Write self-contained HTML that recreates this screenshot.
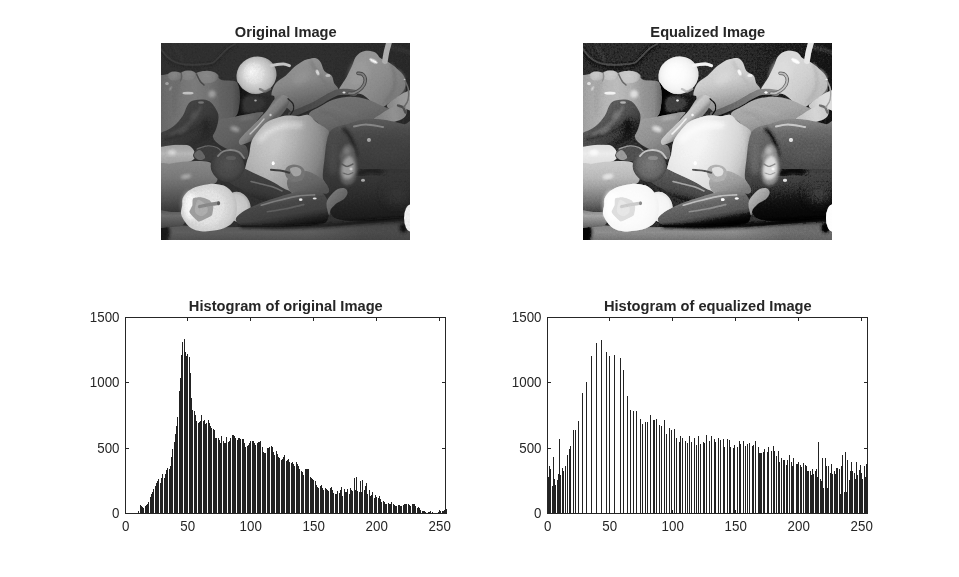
<!DOCTYPE html>
<html lang="en">
<head>
<meta charset="utf-8">
<title>Histogram Equalization</title>
<style>
html,body{margin:0;padding:0;background:#fff;}
body{width:959px;height:577px;overflow:hidden;position:relative;font-family:"Liberation Sans", Arial, Helvetica, sans-serif;}
svg{display:block;position:absolute;left:0;top:0;}
svg text{font-family:"Liberation Sans", Arial, Helvetica, sans-serif;fill:#262626;}
</style>
</head>
<body>
<svg width="959" height="577" viewBox="0 0 959 577">
<defs>
<clipPath id="imclip"><rect x="0" y="0" width="249" height="197"/></clipPath>
<filter id="eq" x="0" y="0" width="100%" height="100%" filterUnits="objectBoundingBox" color-interpolation-filters="sRGB">
<feComponentTransfer>
<feFuncR type="table" tableValues="0 0 0 0 0 0 0 0 0 0 .000 .000 .001 .002 .002 .003 .004 .005 .005 .007 .008 .010 .012 .014 .017 .019 .023 .026 .028 .032 .035 .039 .042 .046 .050 .055 .059 .064 .070 .077 .084 .092 .101 .112 .124 .139 .155 .171 .185 .200 .214 .229 .242 .252 .262 .271 .280 .288 .297 .305 .314 .323 .331 .340 .348 .356 .365 .373 .381 .389 .397 .404 .411 .418 .425 .432 .438 .445 .452 .458 .465 .472 .478 .485 .492 .499 .506 .513 .520 .527 .534 .541 .548 .555 .561 .568 .574 .580 .586 .593 .600 .606 .613 .619 .626 .632 .639 .645 .652 .658 .664 .669 .675 .681 .687 .693 .699 .705 .711 .716 .722 .727 .733 .738 .743 .748 .753 .758 .763 .768 .773 .778 .782 .787 .791 .796 .801 .805 .809 .813 .817 .821 .825 .829 .833 .837 .841 .844 .848 .851 .854 .857 .860 .862 .864 .867 .870 .872 .874 .877 .879 .881 .883 .885 .888 .890 .892 .894 .896 .898 .900 .902 .904 .906 .908 .910 .912 .914 .916 .919 .921 .923 .926 .928 .932 .934 .936 .939 .941 .944 .946 .948 .951 .953 .955 .957 .958 .960 .962 .964 .965 .967 .968 .970 .971 .972 .973 .974 .975 .976 .977 .977 .979 .979 .980 .981 .982 .982 .983 .984 .985 .985 .986 .987 .988 .989 .990 .991 .991 .992 .993 .994 .995 .995 .996 .996 .996 .997 .997 .997 .997 .997 .997 .998 .998 .998 .998 .998 .998 .998 .998 .999 .999 .999 1.000 1"/>
<feFuncG type="table" tableValues="0 0 0 0 0 0 0 0 0 0 .000 .000 .001 .002 .002 .003 .004 .005 .005 .007 .008 .010 .012 .014 .017 .019 .023 .026 .028 .032 .035 .039 .042 .046 .050 .055 .059 .064 .070 .077 .084 .092 .101 .112 .124 .139 .155 .171 .185 .200 .214 .229 .242 .252 .262 .271 .280 .288 .297 .305 .314 .323 .331 .340 .348 .356 .365 .373 .381 .389 .397 .404 .411 .418 .425 .432 .438 .445 .452 .458 .465 .472 .478 .485 .492 .499 .506 .513 .520 .527 .534 .541 .548 .555 .561 .568 .574 .580 .586 .593 .600 .606 .613 .619 .626 .632 .639 .645 .652 .658 .664 .669 .675 .681 .687 .693 .699 .705 .711 .716 .722 .727 .733 .738 .743 .748 .753 .758 .763 .768 .773 .778 .782 .787 .791 .796 .801 .805 .809 .813 .817 .821 .825 .829 .833 .837 .841 .844 .848 .851 .854 .857 .860 .862 .864 .867 .870 .872 .874 .877 .879 .881 .883 .885 .888 .890 .892 .894 .896 .898 .900 .902 .904 .906 .908 .910 .912 .914 .916 .919 .921 .923 .926 .928 .932 .934 .936 .939 .941 .944 .946 .948 .951 .953 .955 .957 .958 .960 .962 .964 .965 .967 .968 .970 .971 .972 .973 .974 .975 .976 .977 .977 .979 .979 .980 .981 .982 .982 .983 .984 .985 .985 .986 .987 .988 .989 .990 .991 .991 .992 .993 .994 .995 .995 .996 .996 .996 .997 .997 .997 .997 .997 .997 .998 .998 .998 .998 .998 .998 .998 .998 .999 .999 .999 1.000 1"/>
<feFuncB type="table" tableValues="0 0 0 0 0 0 0 0 0 0 .000 .000 .001 .002 .002 .003 .004 .005 .005 .007 .008 .010 .012 .014 .017 .019 .023 .026 .028 .032 .035 .039 .042 .046 .050 .055 .059 .064 .070 .077 .084 .092 .101 .112 .124 .139 .155 .171 .185 .200 .214 .229 .242 .252 .262 .271 .280 .288 .297 .305 .314 .323 .331 .340 .348 .356 .365 .373 .381 .389 .397 .404 .411 .418 .425 .432 .438 .445 .452 .458 .465 .472 .478 .485 .492 .499 .506 .513 .520 .527 .534 .541 .548 .555 .561 .568 .574 .580 .586 .593 .600 .606 .613 .619 .626 .632 .639 .645 .652 .658 .664 .669 .675 .681 .687 .693 .699 .705 .711 .716 .722 .727 .733 .738 .743 .748 .753 .758 .763 .768 .773 .778 .782 .787 .791 .796 .801 .805 .809 .813 .817 .821 .825 .829 .833 .837 .841 .844 .848 .851 .854 .857 .860 .862 .864 .867 .870 .872 .874 .877 .879 .881 .883 .885 .888 .890 .892 .894 .896 .898 .900 .902 .904 .906 .908 .910 .912 .914 .916 .919 .921 .923 .926 .928 .932 .934 .936 .939 .941 .944 .946 .948 .951 .953 .955 .957 .958 .960 .962 .964 .965 .967 .968 .970 .971 .972 .973 .974 .975 .976 .977 .977 .979 .979 .980 .981 .982 .982 .983 .984 .985 .985 .986 .987 .988 .989 .990 .991 .991 .992 .993 .994 .995 .995 .996 .996 .996 .997 .997 .997 .997 .997 .997 .998 .998 .998 .998 .998 .998 .998 .998 .999 .999 .999 1.000 1"/>
</feComponentTransfer>
</filter>
<filter id="pb1" x="-30%" y="-30%" width="160%" height="160%"><feGaussianBlur stdDeviation="0.7"/></filter>
<filter id="pb2" x="-30%" y="-30%" width="160%" height="160%"><feGaussianBlur stdDeviation="1.4"/></filter>
<filter id="pb3" x="-30%" y="-30%" width="160%" height="160%"><feGaussianBlur stdDeviation="2.5"/></filter>
<filter id="pb5" x="-30%" y="-30%" width="160%" height="160%"><feGaussianBlur stdDeviation="5"/></filter>
<filter id="pball" x="0" y="0" width="100%" height="100%" filterUnits="objectBoundingBox" color-interpolation-filters="sRGB"><feGaussianBlur in="SourceGraphic" stdDeviation="0.75" result="bl"/><feTurbulence type="fractalNoise" baseFrequency="0.55" numOctaves="2" seed="7" result="nz"/><feColorMatrix in="nz" type="matrix" values="0.6 0.4 0 0 0  0.6 0.4 0 0 0  0.6 0.4 0 0 0  0 0 0 0 1" result="ng"/><feComposite in="bl" in2="ng" operator="arithmetic" k1="0" k2="1" k3="0.06" k4="-0.03"/><feComponentTransfer><feFuncR type="table" tableValues="0.02 0.021 0.022 0.024 0.025 0.027 0.029 0.031 0.033 0.035 0.037 0.039 0.041 0.043 0.045 0.048 0.05 0.053 0.056 0.059 0.062 0.066 0.07 0.074 0.079 0.083 0.087 0.092 0.096 0.1 0.104 0.108 0.112 0.116 0.119 0.123 0.127 0.131 0.135 0.139 0.144 0.149 0.154 0.159 0.164 0.17 0.175 0.181 0.186 0.191 0.196 0.2 0.204 0.208 0.211 0.215 0.218 0.222 0.225 0.229 0.233 0.236 0.24 0.244 0.248 0.253 0.257 0.261 0.265 0.269 0.273 0.278 0.282 0.286 0.29 0.294 0.299 0.303 0.306 0.31 0.314 0.317 0.32 0.324 0.327 0.33 0.334 0.337 0.34 0.343 0.347 0.35 0.353 0.357 0.36 0.363 0.367 0.37 0.373 0.377 0.38 0.384 0.387 0.391 0.394 0.398 0.402 0.406 0.41 0.414 0.418 0.422 0.426 0.43 0.434 0.438 0.442 0.446 0.45 0.454 0.457 0.461 0.464 0.467 0.471 0.474 0.478 0.481 0.485 0.488 0.492 0.495 0.499 0.503 0.506 0.51 0.514 0.518 0.521 0.525 0.529 0.532 0.536 0.54 0.543 0.547 0.55 0.554 0.558 0.561 0.565 0.568 0.572 0.575 0.578 0.582 0.585 0.588 0.591 0.594 0.597 0.601 0.604 0.607 0.61 0.613 0.617 0.62 0.623 0.626 0.629 0.631 0.634 0.637 0.64 0.643 0.646 0.649 0.653 0.656 0.659 0.662 0.666 0.669 0.673 0.677 0.681 0.685 0.689 0.693 0.697 0.702 0.706 0.71 0.715 0.719 0.723 0.728 0.732 0.736 0.741 0.745 0.749 0.753 0.757 0.761 0.765 0.769 0.773 0.776 0.78 0.784 0.787 0.791 0.794 0.798 0.801 0.805 0.809 0.813 0.817 0.822 0.827 0.832 0.838 0.844 0.851 0.858 0.865 0.872 0.88 0.887 0.894 0.9 0.907 0.914 0.922 0.929 0.937 0.944 0.952 0.959 0.965 0.971 0.976 0.979 0.981 0.984 0.986 0.988 0.99 0.992 0.994 0.995 0.997 0.998"/><feFuncG type="table" tableValues="0.02 0.021 0.022 0.024 0.025 0.027 0.029 0.031 0.033 0.035 0.037 0.039 0.041 0.043 0.045 0.048 0.05 0.053 0.056 0.059 0.062 0.066 0.07 0.074 0.079 0.083 0.087 0.092 0.096 0.1 0.104 0.108 0.112 0.116 0.119 0.123 0.127 0.131 0.135 0.139 0.144 0.149 0.154 0.159 0.164 0.17 0.175 0.181 0.186 0.191 0.196 0.2 0.204 0.208 0.211 0.215 0.218 0.222 0.225 0.229 0.233 0.236 0.24 0.244 0.248 0.253 0.257 0.261 0.265 0.269 0.273 0.278 0.282 0.286 0.29 0.294 0.299 0.303 0.306 0.31 0.314 0.317 0.32 0.324 0.327 0.33 0.334 0.337 0.34 0.343 0.347 0.35 0.353 0.357 0.36 0.363 0.367 0.37 0.373 0.377 0.38 0.384 0.387 0.391 0.394 0.398 0.402 0.406 0.41 0.414 0.418 0.422 0.426 0.43 0.434 0.438 0.442 0.446 0.45 0.454 0.457 0.461 0.464 0.467 0.471 0.474 0.478 0.481 0.485 0.488 0.492 0.495 0.499 0.503 0.506 0.51 0.514 0.518 0.521 0.525 0.529 0.532 0.536 0.54 0.543 0.547 0.55 0.554 0.558 0.561 0.565 0.568 0.572 0.575 0.578 0.582 0.585 0.588 0.591 0.594 0.597 0.601 0.604 0.607 0.61 0.613 0.617 0.62 0.623 0.626 0.629 0.631 0.634 0.637 0.64 0.643 0.646 0.649 0.653 0.656 0.659 0.662 0.666 0.669 0.673 0.677 0.681 0.685 0.689 0.693 0.697 0.702 0.706 0.71 0.715 0.719 0.723 0.728 0.732 0.736 0.741 0.745 0.749 0.753 0.757 0.761 0.765 0.769 0.773 0.776 0.78 0.784 0.787 0.791 0.794 0.798 0.801 0.805 0.809 0.813 0.817 0.822 0.827 0.832 0.838 0.844 0.851 0.858 0.865 0.872 0.88 0.887 0.894 0.9 0.907 0.914 0.922 0.929 0.937 0.944 0.952 0.959 0.965 0.971 0.976 0.979 0.981 0.984 0.986 0.988 0.99 0.992 0.994 0.995 0.997 0.998"/><feFuncB type="table" tableValues="0.02 0.021 0.022 0.024 0.025 0.027 0.029 0.031 0.033 0.035 0.037 0.039 0.041 0.043 0.045 0.048 0.05 0.053 0.056 0.059 0.062 0.066 0.07 0.074 0.079 0.083 0.087 0.092 0.096 0.1 0.104 0.108 0.112 0.116 0.119 0.123 0.127 0.131 0.135 0.139 0.144 0.149 0.154 0.159 0.164 0.17 0.175 0.181 0.186 0.191 0.196 0.2 0.204 0.208 0.211 0.215 0.218 0.222 0.225 0.229 0.233 0.236 0.24 0.244 0.248 0.253 0.257 0.261 0.265 0.269 0.273 0.278 0.282 0.286 0.29 0.294 0.299 0.303 0.306 0.31 0.314 0.317 0.32 0.324 0.327 0.33 0.334 0.337 0.34 0.343 0.347 0.35 0.353 0.357 0.36 0.363 0.367 0.37 0.373 0.377 0.38 0.384 0.387 0.391 0.394 0.398 0.402 0.406 0.41 0.414 0.418 0.422 0.426 0.43 0.434 0.438 0.442 0.446 0.45 0.454 0.457 0.461 0.464 0.467 0.471 0.474 0.478 0.481 0.485 0.488 0.492 0.495 0.499 0.503 0.506 0.51 0.514 0.518 0.521 0.525 0.529 0.532 0.536 0.54 0.543 0.547 0.55 0.554 0.558 0.561 0.565 0.568 0.572 0.575 0.578 0.582 0.585 0.588 0.591 0.594 0.597 0.601 0.604 0.607 0.61 0.613 0.617 0.62 0.623 0.626 0.629 0.631 0.634 0.637 0.64 0.643 0.646 0.649 0.653 0.656 0.659 0.662 0.666 0.669 0.673 0.677 0.681 0.685 0.689 0.693 0.697 0.702 0.706 0.71 0.715 0.719 0.723 0.728 0.732 0.736 0.741 0.745 0.749 0.753 0.757 0.761 0.765 0.769 0.773 0.776 0.78 0.784 0.787 0.791 0.794 0.798 0.801 0.805 0.809 0.813 0.817 0.822 0.827 0.832 0.838 0.844 0.851 0.858 0.865 0.872 0.88 0.887 0.894 0.9 0.907 0.914 0.922 0.929 0.937 0.944 0.952 0.959 0.965 0.971 0.976 0.979 0.981 0.984 0.986 0.988 0.99 0.992 0.994 0.995 0.997 0.998"/></feComponentTransfer></filter>
<linearGradient id="pg1" gradientUnits="userSpaceOnUse" x1="0.0" y1="0.0" x2="249.0" y2="0.0"><stop offset="0" stop-color="#303030"/><stop offset="0.6" stop-color="#303030"/><stop offset="0.85" stop-color="#2d2d2d"/><stop offset="1" stop-color="#2b2b2b"/></linearGradient>
<linearGradient id="pg2" gradientUnits="userSpaceOnUse" x1="0.0" y1="178.0" x2="0.0" y2="197.0"><stop offset="0" stop-color="#282828"/><stop offset="0.3" stop-color="#5c5c5c"/><stop offset="0.6" stop-color="#606060"/><stop offset="1" stop-color="#505050"/></linearGradient>
<linearGradient id="pg3" gradientUnits="userSpaceOnUse" x1="150.0" y1="0.0" x2="250.0" y2="0.0"><stop offset="0" stop-color="#3c3c3c" stop-opacity="0"/><stop offset="0.5" stop-color="#3c3c3c" stop-opacity="0.55"/><stop offset="1" stop-color="#424242" stop-opacity="0.7"/></linearGradient>
<linearGradient id="pg4" gradientUnits="userSpaceOnUse" x1="185.0" y1="12.0" x2="240.0" y2="62.0"><stop offset="0" stop-color="#9a9a9a"/><stop offset="0.3" stop-color="#9c9c9c"/><stop offset="0.6" stop-color="#909090"/><stop offset="1" stop-color="#767676"/></linearGradient>
<linearGradient id="pg5" gradientUnits="userSpaceOnUse" x1="142.0" y1="18.0" x2="152.0" y2="66.0"><stop offset="0" stop-color="#989898"/><stop offset="0.4" stop-color="#8e8e8e"/><stop offset="0.75" stop-color="#707070"/><stop offset="1" stop-color="#5c5c5c"/></linearGradient>
<radialGradient id="pg6" gradientUnits="userSpaceOnUse" cx="95.5" cy="32.3" r="22.0" fx="92.0" fy="27.0"><stop offset="0" stop-color="#f2f2f2"/><stop offset="0.45" stop-color="#e4e4e4"/><stop offset="0.8" stop-color="#c4c4c4"/><stop offset="1" stop-color="#969696"/></radialGradient>
<linearGradient id="pg7" gradientUnits="userSpaceOnUse" x1="76.0" y1="0.0" x2="100.0" y2="0.0"><stop offset="0" stop-color="#161616"/><stop offset="0.35" stop-color="#1c1c1c"/><stop offset="1" stop-color="#2c2c2c"/></linearGradient>
<linearGradient id="pg8" gradientUnits="userSpaceOnUse" x1="0.0" y1="50.0" x2="79.0" y2="50.0"><stop offset="0" stop-color="#6c6c6c"/><stop offset="0.2" stop-color="#767676"/><stop offset="0.42" stop-color="#808080"/><stop offset="0.6" stop-color="#767676"/><stop offset="0.75" stop-color="#676767"/><stop offset="0.9" stop-color="#5e5e5e"/><stop offset="1" stop-color="#464646"/></linearGradient>
<radialGradient id="pg9" gradientUnits="userSpaceOnUse" cx="13.5" cy="32.0" r="8.0"><stop offset="0" stop-color="#8c8c8c"/><stop offset="0.7" stop-color="#828282"/><stop offset="1" stop-color="#6e6e6e"/></radialGradient>
<radialGradient id="pg10" gradientUnits="userSpaceOnUse" cx="27.3" cy="31.5" r="9.0"><stop offset="0" stop-color="#8e8e8e"/><stop offset="0.7" stop-color="#848484"/><stop offset="1" stop-color="#6e6e6e"/></radialGradient>
<radialGradient id="pg11" gradientUnits="userSpaceOnUse" cx="45.0" cy="33.0" r="12.5"><stop offset="0" stop-color="#8e8e8e"/><stop offset="0.7" stop-color="#848484"/><stop offset="1" stop-color="#6e6e6e"/></radialGradient>
<linearGradient id="pg12" gradientUnits="userSpaceOnUse" x1="60.0" y1="72.0" x2="85.0" y2="112.0"><stop offset="0" stop-color="#6c6c6c"/><stop offset="0.5" stop-color="#646464"/><stop offset="1" stop-color="#4c4c4c"/></linearGradient>
<linearGradient id="pg13" gradientUnits="userSpaceOnUse" x1="180.0" y1="55.0" x2="188.0" y2="86.0"><stop offset="0" stop-color="#767676"/><stop offset="0.5" stop-color="#707070"/><stop offset="1" stop-color="#626262"/></linearGradient>
<linearGradient id="pg14" gradientUnits="userSpaceOnUse" x1="228.0" y1="60.0" x2="250.0" y2="56.0"><stop offset="0" stop-color="#8c8c8c"/><stop offset="0.5" stop-color="#a0a0a0"/><stop offset="1" stop-color="#a8a8a8"/></linearGradient>
<linearGradient id="pg15" gradientUnits="userSpaceOnUse" x1="216.0" y1="74.0" x2="244.0" y2="68.0"><stop offset="0" stop-color="#878787"/><stop offset="0.6" stop-color="#989898"/><stop offset="1" stop-color="#8c8c8c"/></linearGradient>
<linearGradient id="pg16" gradientUnits="userSpaceOnUse" x1="130.0" y1="72.0" x2="193.0" y2="50.0"><stop offset="0" stop-color="#444444"/><stop offset="0.5" stop-color="#4e4e4e"/><stop offset="1" stop-color="#626262"/></linearGradient>
<linearGradient id="pg17" gradientUnits="userSpaceOnUse" x1="98.0" y1="70.0" x2="108.0" y2="80.0"><stop offset="0" stop-color="#696969"/><stop offset="0.35" stop-color="#8c8c8c"/><stop offset="0.7" stop-color="#808080"/><stop offset="1" stop-color="#5f5f5f"/></linearGradient>
<radialGradient id="pg18" gradientUnits="userSpaceOnUse" cx="122.0" cy="106.0" r="50.0" fx="114.0" fy="96.0"><stop offset="0" stop-color="#d4d4d4"/><stop offset="0.45" stop-color="#c8c8c8"/><stop offset="0.8" stop-color="#bababa"/><stop offset="1" stop-color="#a2a2a2"/></radialGradient>
<linearGradient id="pg19" gradientUnits="userSpaceOnUse" x1="118.0" y1="100.0" x2="168.0" y2="118.0"><stop offset="0" stop-color="#3c3c3c" stop-opacity="0"/><stop offset="0.3" stop-color="#3c3c3c" stop-opacity="0.1"/><stop offset="0.8" stop-color="#3c3c3c" stop-opacity="0.38"/><stop offset="1" stop-color="#3c3c3c" stop-opacity="0.55"/></linearGradient>
<linearGradient id="pg20" gradientUnits="userSpaceOnUse" x1="200.0" y1="78.0" x2="205.0" y2="178.0"><stop offset="0" stop-color="#5c5c5c"/><stop offset="0.1" stop-color="#4c4c4c"/><stop offset="0.3" stop-color="#404040"/><stop offset="0.55" stop-color="#383838"/><stop offset="0.8" stop-color="#2a2a2a"/><stop offset="0.95" stop-color="#202020"/><stop offset="1" stop-color="#181818"/></linearGradient>
<linearGradient id="pg21" gradientUnits="userSpaceOnUse" x1="0.0" y1="102.0" x2="0.0" y2="124.0"><stop offset="0" stop-color="#acacac"/><stop offset="0.4" stop-color="#c2c2c2"/><stop offset="1" stop-color="#a0a0a0"/></linearGradient>
<linearGradient id="pg22" gradientUnits="userSpaceOnUse" x1="0.0" y1="118.0" x2="0.0" y2="170.0"><stop offset="0" stop-color="#8e8e8e"/><stop offset="0.3" stop-color="#7e7e7e"/><stop offset="0.5" stop-color="#6c6c6c"/><stop offset="0.75" stop-color="#505050"/><stop offset="1" stop-color="#343434"/></linearGradient>
<linearGradient id="pg23" gradientUnits="userSpaceOnUse" x1="0.0" y1="168.0" x2="0.0" y2="184.0"><stop offset="0" stop-color="#5f5f5f"/><stop offset="0.3" stop-color="#707070"/><stop offset="1" stop-color="#464646"/></linearGradient>
<linearGradient id="pg24" gradientUnits="userSpaceOnUse" x1="20.0" y1="70.0" x2="40.0" y2="95.0"><stop offset="0" stop-color="#424242"/><stop offset="0.5" stop-color="#3c3c3c"/><stop offset="1" stop-color="#2e2e2e"/></linearGradient>
<linearGradient id="pg25" gradientUnits="userSpaceOnUse" x1="95.0" y1="132.0" x2="90.0" y2="156.0"><stop offset="0" stop-color="#424242"/><stop offset="0.6" stop-color="#3a3a3a"/><stop offset="1" stop-color="#282828"/></linearGradient>
<radialGradient id="pg26" gradientUnits="userSpaceOnUse" cx="66.5" cy="121.0" r="18.0"><stop offset="0" stop-color="#525252"/><stop offset="0.7" stop-color="#484848"/><stop offset="1" stop-color="#383838"/></radialGradient>
<linearGradient id="pg27" gradientUnits="userSpaceOnUse" x1="140.0" y1="128.0" x2="150.0" y2="152.0"><stop offset="0" stop-color="#767676"/><stop offset="0.6" stop-color="#686868"/><stop offset="1" stop-color="#545454"/></linearGradient>
<radialGradient id="pg28" gradientUnits="userSpaceOnUse" cx="74.0" cy="163.0" r="17.0"><stop offset="0" stop-color="#dedede"/><stop offset="0.7" stop-color="#d0d0d0"/><stop offset="1" stop-color="#aaaaaa"/></radialGradient>
<linearGradient id="pg29" gradientUnits="userSpaceOnUse" x1="120.0" y1="150.0" x2="126.0" y2="184.0"><stop offset="0" stop-color="#646464"/><stop offset="0.3" stop-color="#484848"/><stop offset="0.65" stop-color="#404040"/><stop offset="0.88" stop-color="#242424"/><stop offset="1" stop-color="#181818"/></linearGradient>
<linearGradient id="pg30" gradientUnits="userSpaceOnUse" x1="168.0" y1="148.0" x2="182.0" y2="162.0"><stop offset="0" stop-color="#828282"/><stop offset="1" stop-color="#5f5f5f"/></linearGradient>
<radialGradient id="pg31" gradientUnits="userSpaceOnUse" cx="46.0" cy="164.0" r="32.0"><stop offset="0" stop-color="#eaeaea"/><stop offset="0.5" stop-color="#e6e6e6"/><stop offset="0.8" stop-color="#dadada"/><stop offset="1" stop-color="#c0c0c0"/></radialGradient>
<g id="hbars1"><g fill="#232323" shape-rendering="crispEdges"><rect x="137" y="512.5" width="1" height="1"/><rect x="138" y="511" width="1" height="2.5"/><rect x="140" y="505" width="1" height="8.5"/><rect x="141" y="505.5" width="1" height="8"/><rect x="142" y="507" width="1" height="6.5"/><rect x="143" y="507.5" width="1" height="6"/><rect x="145" y="506" width="1" height="7.5"/><rect x="146" y="504.5" width="1" height="9"/><rect x="147" y="503.5" width="1" height="10"/><rect x="148" y="501.5" width="1" height="12"/><rect x="150" y="496.5" width="1" height="17"/><rect x="151" y="494" width="1" height="19.5"/><rect x="152" y="491.5" width="1" height="22"/><rect x="153" y="489" width="1" height="24.5"/><rect x="155" y="485.5" width="1" height="28"/><rect x="156" y="483" width="1" height="30.5"/><rect x="157" y="480.5" width="1" height="33"/><rect x="158" y="478.5" width="1" height="35"/><rect x="160" y="483" width="1" height="30.5"/><rect x="161" y="477.5" width="1" height="36"/><rect x="162" y="474" width="1" height="39.5"/><rect x="164" y="477.5" width="1" height="36"/><rect x="165" y="473.5" width="1" height="40"/><rect x="166" y="469.5" width="1" height="44"/><rect x="167" y="468" width="1" height="45.5"/><rect x="169" y="469" width="1" height="44.5"/><rect x="170" y="466" width="1" height="47.5"/><rect x="171" y="457" width="1" height="56.5"/><rect x="172" y="448.5" width="1" height="65"/><rect x="174" y="441.5" width="1" height="72"/><rect x="175" y="433.5" width="1" height="80"/><rect x="176" y="426" width="1" height="87.5"/><rect x="177" y="417" width="1" height="96.5"/><rect x="179" y="390.5" width="1" height="123"/><rect x="180" y="377.5" width="1" height="136"/><rect x="181" y="354.5" width="1" height="159"/><rect x="182" y="341.5" width="1" height="172"/><rect x="184" y="339" width="1" height="174.5"/><rect x="185" y="351.5" width="1" height="162"/><rect x="186" y="355.5" width="1" height="158"/><rect x="187" y="354" width="1" height="159.5"/><rect x="189" y="357" width="1" height="156.5"/><rect x="190" y="372.5" width="1" height="141"/><rect x="191" y="397.5" width="1" height="116"/><rect x="192" y="410" width="1" height="103.5"/><rect x="194" y="411" width="1" height="102.5"/><rect x="195" y="415" width="1" height="98.5"/><rect x="196" y="421" width="1" height="92.5"/><rect x="198" y="423" width="1" height="90.5"/><rect x="199" y="422" width="1" height="91.5"/><rect x="200" y="421" width="1" height="92.5"/><rect x="201" y="414.5" width="1" height="99"/><rect x="203" y="420.5" width="1" height="93"/><rect x="204" y="420" width="1" height="93.5"/><rect x="205" y="424" width="1" height="89.5"/><rect x="206" y="423" width="1" height="90.5"/><rect x="208" y="419.5" width="1" height="94"/><rect x="209" y="423" width="1" height="90.5"/><rect x="210" y="426" width="1" height="87.5"/><rect x="211" y="427.5" width="1" height="86"/><rect x="213" y="428.5" width="1" height="85"/><rect x="214" y="430" width="1" height="83.5"/><rect x="215" y="437.5" width="1" height="76"/><rect x="216" y="438" width="1" height="75.5"/><rect x="218" y="437.5" width="1" height="76"/><rect x="219" y="440" width="1" height="73.5"/><rect x="220" y="442.5" width="1" height="71"/><rect x="221" y="436" width="1" height="77.5"/><rect x="223" y="441" width="1" height="72.5"/><rect x="224" y="443" width="1" height="70.5"/><rect x="225" y="443" width="1" height="70.5"/><rect x="226" y="436.5" width="1" height="77"/><rect x="228" y="441.5" width="1" height="72"/><rect x="229" y="441" width="1" height="72.5"/><rect x="230" y="438" width="1" height="75.5"/><rect x="232" y="434.5" width="1" height="79"/><rect x="233" y="435" width="1" height="78.5"/><rect x="234" y="436" width="1" height="77.5"/><rect x="235" y="438" width="1" height="75.5"/><rect x="237" y="439.5" width="1" height="74"/><rect x="238" y="437.5" width="1" height="76"/><rect x="239" y="438" width="1" height="75.5"/><rect x="240" y="438.5" width="1" height="75"/><rect x="242" y="439" width="1" height="74.5"/><rect x="243" y="439" width="1" height="74.5"/><rect x="244" y="442.5" width="1" height="71"/><rect x="245" y="446.5" width="1" height="67"/><rect x="247" y="445.5" width="1" height="68"/><rect x="248" y="445" width="1" height="68.5"/><rect x="249" y="443" width="1" height="70.5"/><rect x="250" y="441" width="1" height="72.5"/><rect x="252" y="440.5" width="1" height="73"/><rect x="253" y="440.5" width="1" height="73"/><rect x="254" y="443" width="1" height="70.5"/><rect x="255" y="445" width="1" height="68.5"/><rect x="257" y="443" width="1" height="70.5"/><rect x="258" y="442" width="1" height="71.5"/><rect x="259" y="441.5" width="1" height="72"/><rect x="260" y="440.5" width="1" height="73"/><rect x="262" y="446.5" width="1" height="67"/><rect x="263" y="451.5" width="1" height="62"/><rect x="264" y="453" width="1" height="60.5"/><rect x="265" y="452.5" width="1" height="61"/><rect x="267" y="448" width="1" height="65.5"/><rect x="268" y="447.5" width="1" height="66"/><rect x="269" y="447" width="1" height="66.5"/><rect x="271" y="446" width="1" height="67.5"/><rect x="272" y="447" width="1" height="66.5"/><rect x="273" y="451.5" width="1" height="62"/><rect x="274" y="454.5" width="1" height="59"/><rect x="276" y="450.5" width="1" height="63"/><rect x="277" y="453.5" width="1" height="60"/><rect x="278" y="456.5" width="1" height="57"/><rect x="279" y="458" width="1" height="55.5"/><rect x="281" y="459.5" width="1" height="54"/><rect x="282" y="459" width="1" height="54.5"/><rect x="283" y="456.5" width="1" height="57"/><rect x="284" y="455" width="1" height="58.5"/><rect x="286" y="461" width="1" height="52.5"/><rect x="287" y="459.5" width="1" height="54"/><rect x="288" y="458.5" width="1" height="55"/><rect x="289" y="461.5" width="1" height="52"/><rect x="291" y="463" width="1" height="50.5"/><rect x="292" y="461.5" width="1" height="52"/><rect x="293" y="464" width="1" height="49.5"/><rect x="294" y="466" width="1" height="47.5"/><rect x="296" y="462" width="1" height="51.5"/><rect x="297" y="464" width="1" height="49.5"/><rect x="298" y="466" width="1" height="47.5"/><rect x="299" y="469" width="1" height="44.5"/><rect x="301" y="471" width="1" height="42.5"/><rect x="302" y="471.5" width="1" height="42"/><rect x="303" y="474.5" width="1" height="39"/><rect x="305" y="469" width="1" height="44.5"/><rect x="306" y="468.5" width="1" height="45"/><rect x="307" y="468.5" width="1" height="45"/><rect x="308" y="468.5" width="1" height="45"/><rect x="310" y="477" width="1" height="36.5"/><rect x="311" y="478" width="1" height="35.5"/><rect x="312" y="479" width="1" height="34.5"/><rect x="313" y="479.5" width="1" height="34"/><rect x="315" y="481" width="1" height="32.5"/><rect x="316" y="484.5" width="1" height="29"/><rect x="317" y="486.5" width="1" height="27"/><rect x="318" y="487.5" width="1" height="26"/><rect x="320" y="485.5" width="1" height="28"/><rect x="321" y="484.5" width="1" height="29"/><rect x="322" y="487.5" width="1" height="26"/><rect x="323" y="489.5" width="1" height="24"/><rect x="325" y="487.5" width="1" height="26"/><rect x="326" y="488.5" width="1" height="25"/><rect x="327" y="490" width="1" height="23.5"/><rect x="328" y="490.5" width="1" height="23"/><rect x="330" y="488" width="1" height="25.5"/><rect x="331" y="486.5" width="1" height="27"/><rect x="332" y="489.5" width="1" height="24"/><rect x="333" y="492.5" width="1" height="21"/><rect x="335" y="494" width="1" height="19.5"/><rect x="336" y="494" width="1" height="19.5"/><rect x="337" y="490.5" width="1" height="23"/><rect x="339" y="492.5" width="1" height="21"/><rect x="340" y="489.5" width="1" height="24"/><rect x="341" y="486.5" width="1" height="27"/><rect x="342" y="496" width="1" height="17.5"/><rect x="344" y="488.5" width="1" height="25"/><rect x="345" y="492" width="1" height="21.5"/><rect x="346" y="492" width="1" height="21.5"/><rect x="347" y="488.5" width="1" height="25"/><rect x="349" y="493.5" width="1" height="20"/><rect x="350" y="488" width="1" height="25.5"/><rect x="351" y="490" width="1" height="23.5"/><rect x="352" y="490.5" width="1" height="23"/><rect x="354" y="478" width="1" height="35.5"/><rect x="355" y="490" width="1" height="23.5"/><rect x="356" y="476.5" width="1" height="37"/><rect x="357" y="490.5" width="1" height="23"/><rect x="359" y="491.5" width="1" height="22"/><rect x="360" y="481" width="1" height="32.5"/><rect x="361" y="491.5" width="1" height="22"/><rect x="362" y="479.5" width="1" height="34"/><rect x="364" y="490" width="1" height="23.5"/><rect x="365" y="486" width="1" height="27.5"/><rect x="366" y="482.5" width="1" height="31"/><rect x="367" y="494" width="1" height="19.5"/><rect x="369" y="490" width="1" height="23.5"/><rect x="370" y="495.5" width="1" height="18"/><rect x="371" y="494.5" width="1" height="19"/><rect x="372" y="491.5" width="1" height="22"/><rect x="374" y="497.5" width="1" height="16"/><rect x="375" y="495" width="1" height="18.5"/><rect x="376" y="496.5" width="1" height="17"/><rect x="378" y="498" width="1" height="15.5"/><rect x="379" y="495.5" width="1" height="18"/><rect x="380" y="499" width="1" height="14.5"/><rect x="381" y="501.5" width="1" height="12"/><rect x="383" y="500.5" width="1" height="13"/><rect x="384" y="502" width="1" height="11.5"/><rect x="385" y="503.5" width="1" height="10"/><rect x="386" y="503.5" width="1" height="10"/><rect x="388" y="502.5" width="1" height="11"/><rect x="389" y="504" width="1" height="9.5"/><rect x="390" y="504" width="1" height="9.5"/><rect x="391" y="502" width="1" height="11.5"/><rect x="393" y="504" width="1" height="9.5"/><rect x="394" y="505" width="1" height="8.5"/><rect x="395" y="506" width="1" height="7.5"/><rect x="396" y="505.5" width="1" height="8"/><rect x="398" y="505" width="1" height="8.5"/><rect x="399" y="505" width="1" height="8.5"/><rect x="400" y="505.5" width="1" height="8"/><rect x="401" y="506" width="1" height="7.5"/><rect x="403" y="504.5" width="1" height="9"/><rect x="404" y="504" width="1" height="9.5"/><rect x="405" y="503.5" width="1" height="10"/><rect x="406" y="503.5" width="1" height="10"/><rect x="408" y="503.5" width="1" height="10"/><rect x="409" y="505" width="1" height="8.5"/><rect x="410" y="505.5" width="1" height="8"/><rect x="412" y="503.5" width="1" height="10"/><rect x="413" y="503.5" width="1" height="10"/><rect x="414" y="503.5" width="1" height="10"/><rect x="415" y="505.5" width="1" height="8"/><rect x="417" y="508" width="1" height="5.5"/><rect x="418" y="506.5" width="1" height="7"/><rect x="419" y="508" width="1" height="5.5"/><rect x="420" y="509.5" width="1" height="4"/><rect x="422" y="511" width="1" height="2.5"/><rect x="423" y="511" width="1" height="2.5"/><rect x="424" y="511" width="1" height="2.5"/><rect x="425" y="511.5" width="1" height="2"/><rect x="427" y="512.5" width="1" height="1"/><rect x="428" y="512" width="1" height="1.5"/><rect x="429" y="511.5" width="1" height="2"/><rect x="430" y="511" width="1" height="2.5"/><rect x="432" y="512" width="1" height="1.5"/><rect x="433" y="512.5" width="1" height="1"/><rect x="434" y="512.5" width="1" height="1"/><rect x="435" y="512.5" width="1" height="1"/><rect x="437" y="513" width="1" height="0.5"/><rect x="438" y="512" width="1" height="1.5"/><rect x="439" y="510.5" width="1" height="3"/><rect x="440" y="511" width="1" height="2.5"/><rect x="442" y="511" width="1" height="2.5"/><rect x="443" y="510.5" width="1" height="3"/><rect x="444" y="509.5" width="1" height="4"/><rect x="446" y="509" width="1" height="4.5"/></g></g>
</defs>
<rect width="959" height="577" fill="#fff"/>
<!-- top row: images -->
<text transform="translate(285.8,36.5) scale(1,1.06)" text-anchor="middle" font-size="14.67" font-weight="bold">Original Image</text>
<text transform="translate(707.8,36.5) scale(1,1.06)" text-anchor="middle" font-size="14.67" font-weight="bold">Equalized Image</text>
<g transform="translate(161,43)" clip-path="url(#imclip)"><g id="pep"><g filter="url(#pball)"><rect x="-12" y="-12" width="273" height="221" fill="url(#pg1)"/>
<path d="M0.0 8.0C1.0 9.2 3.7 12.9 6.0 15.0C8.3 17.1 11.0 19.2 14.0 20.5C17.0 21.8 19.7 22.6 24.0 23.0C28.3 23.4 35.3 23.3 40.0 23.0C44.7 22.7 48.7 22.7 52.0 21.0C55.3 19.3 57.7 15.3 60.0 13.0C62.3 10.7 63.7 8.8 66.0 7.0C68.3 5.2 72.7 2.8 74.0 2.0" fill="none" stroke="#262626" stroke-width="2.4" stroke-linecap="round" stroke-linejoin="round" filter="url(#pb2)" opacity="0.8"/>
<path d="M0.0 6.0C1.0 7.2 3.7 11.3 6.0 13.5C8.3 15.7 11.0 17.7 14.0 19.0C17.0 20.3 19.7 21.1 24.0 21.5C28.3 21.9 35.3 21.8 40.0 21.5C44.7 21.2 48.7 21.1 52.0 19.5C55.3 17.9 57.7 14.2 60.0 12.0C62.3 9.8 63.7 7.8 66.0 6.0C68.3 4.2 72.7 1.8 74.0 1.0" fill="none" stroke="#3c3c3c" stroke-width="1.8" stroke-linecap="round" stroke-linejoin="round" filter="url(#pb1)" opacity="0.9"/>
<path d="M12.0 2.0C13.0 3.3 16.3 7.0 18.0 10.0C19.7 13.0 21.3 18.3 22.0 20.0" fill="none" stroke="#393939" stroke-width="1.5" stroke-linecap="round" stroke-linejoin="round" filter="url(#pb2)" opacity="0.8"/>
<path d="M225.0 2.0 L250.0 10.0" fill="none" stroke="#363636" stroke-width="3" stroke-linecap="round" stroke-linejoin="round" filter="url(#pb2)"/>
<path d="M-10.0 181.0C-5.0 178.4 29.0 183.7 40.0 184.0C51.0 184.3 89.0 184.1 100.0 184.0C111.0 183.9 142.0 183.4 150.0 183.0C158.0 182.6 173.5 180.6 180.0 180.0C186.5 179.4 207.0 177.6 215.0 177.0C223.0 176.4 255.5 170.7 260.0 174.0C264.5 177.3 287.0 206.4 260.0 210.0C233.0 213.6 17.0 212.9 -10.0 210.0C-37.0 207.1 -15.0 183.6 -10.0 181.0Z" fill="url(#pg2)"/>
<path d="M-8.0 180.0C-5.7 176.7 3.2 180.3 6.0 182.0C8.8 183.7 9.3 186.7 9.0 190.0C8.7 193.3 6.8 200.0 4.0 202.0C1.2 204.0 -6.0 205.7 -8.0 202.0C-10.0 198.3 -10.3 183.3 -8.0 180.0Z" fill="#1c1c1c" filter="url(#pb2)"/>
<rect x="150" y="170" width="110" height="40" fill="url(#pg3)"/>
<path d="M178.2 46.6C177.9 45.1 180.3 42.5 181.6 40.3C182.9 38.1 184.3 36.3 185.9 33.4C187.4 30.6 189.6 26.3 191.0 23.1C192.4 20.0 193.0 16.9 194.4 14.6C195.9 12.3 197.4 10.6 199.6 9.4C201.7 8.3 204.7 7.6 207.3 7.7C209.9 7.8 213.0 8.7 215.0 9.9C217.0 11.2 217.4 13.7 219.3 15.1C221.2 16.5 223.9 17.2 226.2 18.5C228.5 19.9 231.2 21.7 233.0 23.1C234.9 24.6 235.7 25.5 237.3 27.1C238.9 28.7 241.3 30.5 242.5 32.6C243.7 34.6 244.4 37.2 244.5 39.4C244.7 41.7 244.2 44.3 243.3 46.3C242.4 48.3 240.5 50.0 239.0 51.4C237.6 52.9 236.6 53.8 234.7 55.2C232.9 56.6 229.9 58.6 227.9 60.0C225.9 61.4 224.5 63.0 222.7 63.8C221.0 64.6 219.6 65.6 217.6 64.8C215.6 64.0 213.0 61.1 210.7 59.2C208.4 57.2 206.2 54.6 203.9 53.2C201.6 51.7 199.3 50.9 197.0 50.6C194.7 50.3 192.4 51.6 190.2 51.4C187.9 51.3 185.3 50.5 183.3 49.7C181.3 48.9 178.4 48.2 178.2 46.6Z" fill="url(#pg4)"/>
<path d="M223.9 18.2C224.2 16.6 224.9 11.8 225.6 8.5C226.4 5.2 227.9 0.2 228.3 -1.5" fill="none" stroke="#bcbcbc" stroke-width="5.6" stroke-linecap="round" stroke-linejoin="round"/>
<path d="M230.4 21.8C230.9 23.2 232.8 27.3 233.4 30.3C234.0 33.4 234.4 36.8 234.0 40.0C233.6 43.3 232.5 46.7 231.0 49.7C229.4 52.8 225.9 56.8 224.9 58.2" fill="none" stroke="#707070" stroke-width="2.2" stroke-linecap="round" stroke-linejoin="round" filter="url(#pb2)" opacity="0.8"/>
<path d="M237.0 29.1C237.7 30.1 240.4 32.9 241.3 35.2C242.2 37.4 242.7 40.0 242.5 42.4C242.3 44.9 241.2 47.7 240.1 49.7C238.9 51.7 236.5 53.8 235.8 54.6" fill="none" stroke="#848484" stroke-width="5" stroke-linecap="round" stroke-linejoin="round" filter="url(#pb2)" opacity="0.6"/>
<ellipse cx="212.5" cy="18.0" rx="4.5" ry="1.8" fill="#f0f0f0" transform="rotate(28 212.5 18.0)" filter="url(#pb1)"/>
<ellipse cx="198.0" cy="30.0" rx="9.0" ry="14.0" fill="#a6a6a6" transform="rotate(20 198.0 30.0)" filter="url(#pb3)" opacity="0.7"/>
<path d="M141.6 18.2C144.1 16.8 145.8 16.5 148.0 16.0C150.2 15.5 152.9 14.6 154.9 15.2C156.9 15.8 158.4 17.3 159.8 19.4C161.2 21.5 161.6 25.7 163.4 27.9C165.2 30.1 169.1 30.7 170.7 32.7C172.3 34.7 172.0 37.6 173.1 40.0C174.2 42.4 178.0 44.7 177.5 47.0C177.0 49.3 173.8 51.8 170.0 54.0C166.2 56.2 160.0 58.0 155.0 60.0C150.0 62.0 143.7 64.3 140.0 66.0C136.3 67.7 135.5 70.3 133.0 70.0C130.5 69.7 128.2 66.3 125.0 64.0C121.8 61.7 116.4 58.2 114.0 56.0C111.6 53.8 110.3 53.7 110.5 51.0C110.7 48.3 112.6 43.0 114.9 40.0C117.2 37.0 121.6 35.3 124.6 32.7C127.6 30.1 130.2 26.7 133.0 24.3C135.8 21.9 139.1 19.6 141.6 18.2Z" fill="url(#pg5)"/>
<path d="M150.0 19.0C151.2 20.8 154.3 26.2 157.0 30.0C159.7 33.8 164.5 40.0 166.0 42.0" fill="none" stroke="#7a7a7a" stroke-width="2.5" stroke-linecap="round" stroke-linejoin="round" filter="url(#pb2)" opacity="0.8"/>
<ellipse cx="156.6" cy="29.5" rx="1.6" ry="3.0" fill="#e1e1e1" transform="rotate(-25 156.6 29.5)" filter="url(#pb1)"/>
<ellipse cx="167.0" cy="32.5" rx="2.6" ry="1.6" fill="#c8c8c8" filter="url(#pb1)"/>
<ellipse cx="140.0" cy="34.0" rx="9.0" ry="6.0" fill="#9e9e9e" transform="rotate(-35 140.0 34.0)" filter="url(#pb3)" opacity="0.7"/>
<ellipse cx="95.5" cy="32.3" rx="20.2" ry="18.6" fill="url(#pg6)" transform="rotate(-20 95.5 32.3)"/>
<path d="M110.0 22.6C111.4 22.4 116.2 21.5 118.5 21.3C120.8 21.1 122.3 21.0 124.0 21.2C125.7 21.4 127.8 22.4 128.5 22.6" fill="none" stroke="#d0d0d0" stroke-width="3" stroke-linecap="round" stroke-linejoin="round"/>
<path d="M99.0 46.0C99.8 46.4 102.3 48.5 104.0 48.5C105.7 48.5 108.2 46.4 109.0 46.0" fill="none" stroke="#737373" stroke-width="2.5" stroke-linecap="round" stroke-linejoin="round" filter="url(#pb1)" opacity="0.8"/>
<path d="M76.0 40.0C77.0 37.7 79.3 44.1 82.0 46.0C84.7 47.9 88.3 50.4 92.0 51.5C95.7 52.6 100.5 52.2 104.0 52.5C107.5 52.8 111.7 51.8 113.0 53.0C114.3 54.2 113.2 57.5 112.0 60.0C110.8 62.5 108.7 66.0 106.0 68.0C103.3 70.0 99.7 70.8 96.0 72.0C92.3 73.2 87.7 74.3 84.0 75.0C80.3 75.7 75.3 78.5 74.0 76.0C72.7 73.5 75.7 66.0 76.0 60.0C76.3 54.0 75.0 42.3 76.0 40.0Z" fill="url(#pg7)"/>
<path d="M82.0 56.0C83.3 53.3 87.0 52.2 90.0 52.0C93.0 51.8 97.7 53.7 100.0 55.0C102.3 56.3 104.3 58.0 104.0 60.0C103.7 62.0 100.7 65.3 98.0 67.0C95.3 68.7 90.7 69.8 88.0 70.0C85.3 70.2 83.0 70.3 82.0 68.0C81.0 65.7 80.7 58.7 82.0 56.0Z" fill="#363636" filter="url(#pb2)"/>
<ellipse cx="94.5" cy="57.5" rx="1.3" ry="0.9" fill="#b4b4b4" filter="url(#pb1)"/>
<path d="M-6.0 32.0C-5.0 21.2 -2.2 32.3 0.0 32.1C2.2 31.9 5.1 31.4 7.3 30.9C9.5 30.4 11.1 29.3 13.3 29.1C15.5 28.9 18.5 29.9 20.6 29.7C22.7 29.5 23.9 28.0 26.1 28.1C28.3 28.2 32.1 30.1 34.0 30.3C35.9 30.5 35.8 29.5 37.6 29.1C39.4 28.7 42.3 27.9 44.9 28.1C47.5 28.3 51.0 28.9 53.4 30.3C55.8 31.7 57.0 35.2 59.4 36.4C61.8 37.6 65.3 37.2 67.9 37.6C70.5 38.0 73.5 37.6 75.2 38.8C76.9 40.0 77.6 42.3 78.2 44.9C78.8 47.5 79.0 51.5 79.0 54.6C79.0 57.7 78.7 60.5 78.2 63.4C77.7 66.3 77.4 69.8 75.8 72.0C74.2 74.2 71.4 75.5 68.6 76.5C65.8 77.5 62.3 77.3 59.2 78.2C56.1 79.1 54.9 79.7 50.0 82.0C45.1 84.3 38.3 89.5 30.0 92.0C21.7 94.5 6.0 96.2 0.0 97.0C-6.0 97.8 -5.0 107.8 -6.0 97.0C-7.0 86.2 -7.0 42.8 -6.0 32.0Z" fill="url(#pg8)"/>
<ellipse cx="13.5" cy="33.0" rx="7.2" ry="4.6" fill="url(#pg9)" filter="url(#pb1)"/>
<ellipse cx="27.3" cy="32.4" rx="8.2" ry="5.0" fill="url(#pg10)" filter="url(#pb1)"/>
<ellipse cx="46.0" cy="34.0" rx="11.5" ry="6.2" fill="url(#pg11)" filter="url(#pb1)"/>
<path d="M20.3 30.0C20.4 30.7 20.9 32.7 20.8 34.0C20.7 35.3 19.7 37.3 19.5 38.0" fill="none" stroke="#5a5a5a" stroke-width="1.2" stroke-linecap="round" stroke-linejoin="round" filter="url(#pb1)" opacity="0.8"/>
<path d="M35.5 31.0C36.1 32.2 37.8 36.2 39.0 38.0C40.2 39.8 42.3 41.3 43.0 42.0" fill="none" stroke="#404040" stroke-width="1.5" stroke-linecap="round" stroke-linejoin="round" filter="url(#pb1)" opacity="0.85"/>
<path d="M18.0 36.0C17.3 38.3 14.8 44.3 14.0 50.0C13.2 55.7 13.2 66.7 13.0 70.0" fill="none" stroke="#646464" stroke-width="3" stroke-linecap="round" stroke-linejoin="round" filter="url(#pb3)" opacity="0.6"/>
<ellipse cx="27.0" cy="50.2" rx="5.6" ry="1.4" fill="#cdcdcd" filter="url(#pb1)"/>
<ellipse cx="51.0" cy="51.0" rx="3.6" ry="3.6" fill="#a8a8a8" filter="url(#pb2)"/>
<ellipse cx="6.0" cy="40.5" rx="1.8" ry="1.5" fill="#aaaaaa" filter="url(#pb1)"/>
<ellipse cx="9.5" cy="45.5" rx="1.0" ry="2.2" fill="#969696" transform="rotate(25 9.5 45.5)" filter="url(#pb1)"/>
<path d="M58.2 77.6C60.8 75.1 63.5 76.1 67.9 75.1C72.4 74.1 79.2 72.5 84.9 71.5C90.6 70.5 99.9 68.3 101.9 69.1C103.9 69.9 99.0 73.3 97.0 76.3C95.0 79.4 92.2 84.2 89.8 87.3C87.3 90.3 84.3 92.3 82.5 94.5C80.7 96.8 78.4 99.2 78.8 100.6C79.2 102.0 83.5 101.2 84.9 103.0C86.3 104.8 87.5 109.3 87.3 111.5C87.1 113.7 86.1 116.8 83.7 116.4C81.3 116.0 76.6 111.3 72.8 109.1C68.9 106.9 63.9 105.0 60.6 103.0C57.4 101.0 54.8 99.2 53.4 97.0C52.0 94.7 51.3 92.9 52.2 89.7C53.0 86.4 55.6 80.0 58.2 77.6Z" fill="url(#pg12)"/>
<ellipse cx="74.0" cy="86.0" rx="4.5" ry="2.2" fill="#aaaaaa" transform="rotate(20 74.0 86.0)" filter="url(#pb2)"/>
<ellipse cx="86.0" cy="75.0" rx="8.0" ry="1.6" fill="#787878" transform="rotate(-10 86.0 75.0)" filter="url(#pb2)"/>
<path d="M148.0 71.0C148.5 68.7 153.3 65.8 157.0 63.5C160.7 61.2 165.3 59.1 170.0 57.5C174.7 55.9 180.2 54.5 185.0 54.0C189.8 53.5 194.4 53.8 198.7 54.5C203.0 55.2 207.0 56.6 210.7 58.0C214.4 59.4 217.8 61.4 221.0 63.0C224.2 64.6 229.3 65.5 229.6 67.5C229.9 69.5 225.8 73.1 222.7 74.8C219.5 76.5 215.0 76.9 210.7 77.5C206.4 78.1 201.3 77.7 197.0 78.5C192.7 79.3 188.4 81.2 185.0 82.6C181.6 83.9 178.9 85.5 176.4 86.6C173.9 87.7 172.2 89.6 169.9 89.2C167.6 88.8 165.3 86.4 162.7 84.4C160.1 82.5 156.5 79.7 154.1 77.5C151.7 75.3 147.5 73.3 148.0 71.0Z" fill="url(#pg13)"/>
<path d="M160.0 69.0C162.0 69.5 168.3 70.2 172.0 72.0C175.7 73.8 180.3 78.7 182.0 80.0" fill="none" stroke="#646464" stroke-width="1.8" stroke-linecap="round" stroke-linejoin="round" filter="url(#pb2)" opacity="0.7"/>
<path d="M165.0 64.0C167.5 64.3 175.0 64.7 180.0 66.0C185.0 67.3 192.5 71.0 195.0 72.0" fill="none" stroke="#7a7a7a" stroke-width="1.8" stroke-linecap="round" stroke-linejoin="round" filter="url(#pb2)" opacity="0.7"/>
<path d="M226.0 62.0C226.8 60.1 232.4 56.7 234.7 54.9C237.0 53.1 238.2 52.4 239.9 51.4C241.6 50.4 242.3 49.6 245.0 48.9C247.7 48.2 254.2 43.8 256.0 47.0C257.8 50.2 257.8 64.8 256.0 68.0C254.2 71.2 248.0 66.5 245.0 66.0C242.0 65.5 240.7 64.9 238.2 65.0C235.7 65.1 232.0 67.0 230.0 66.5C228.0 66.0 225.2 63.9 226.0 62.0Z" fill="url(#pg14)"/>
<path d="M213.0 76.0C213.7 74.5 218.5 72.0 221.0 70.3C223.5 68.6 225.3 67.2 227.9 66.0C230.5 64.8 233.9 63.7 236.5 63.1C239.1 62.5 241.8 62.0 243.3 62.6C244.8 63.2 245.4 65.1 245.5 66.9C245.6 68.8 245.6 71.9 244.0 73.7C242.4 75.5 239.3 77.0 236.0 78.0C232.7 79.0 227.6 79.3 224.4 79.5C221.2 79.7 218.9 79.6 217.0 79.0C215.1 78.4 212.3 77.5 213.0 76.0Z" fill="url(#pg15)"/>
<path d="M237.0 62.5C237.8 62.8 240.8 63.3 242.0 64.5C243.2 65.7 244.1 68.7 244.5 69.5" fill="none" stroke="#4e4e4e" stroke-width="2.4" stroke-linecap="round" stroke-linejoin="round" filter="url(#pb1)"/>
<path d="M243.3 36.4C244.0 38.0 246.7 42.6 247.3 46.0C247.9 49.4 247.7 54.0 247.0 57.0C246.3 60.0 243.7 62.8 243.0 64.0" fill="none" stroke="#6e6e6e" stroke-width="1.5" stroke-linecap="round" stroke-linejoin="round"/>
<ellipse cx="243.5" cy="36.5" rx="1.0" ry="0.8" fill="#c8c8c8"/>
<path d="M130.0 72.6C131.7 71.9 135.8 70.4 140.0 68.6C144.2 66.8 150.6 64.2 154.9 62.0C159.2 59.8 162.4 57.5 166.0 55.5C169.6 53.5 173.1 51.3 176.4 50.3C179.8 49.3 184.5 49.7 186.1 49.6" fill="none" stroke="#2c2c2c" stroke-width="6.6" stroke-linecap="round" stroke-linejoin="round"/>
<path d="M130.0 71.5C131.7 70.8 135.8 69.2 140.0 67.5C144.2 65.8 150.6 63.2 154.9 61.0C159.2 58.8 162.4 56.5 166.0 54.5C169.6 52.5 173.1 50.2 176.4 49.3C179.8 48.3 183.3 48.7 186.1 48.8C188.9 48.9 192.2 49.6 193.4 49.7" fill="none" stroke="url(#pg16)" stroke-width="6" stroke-linecap="round" stroke-linejoin="round"/>
<path d="M188.0 50.2C188.9 50.2 191.3 50.8 193.4 49.9C195.5 49.0 198.8 47.1 200.6 45.1C202.4 43.1 204.1 39.9 204.3 37.6C204.5 35.3 203.1 32.7 201.9 31.5C200.7 30.3 197.8 30.5 197.0 30.3" fill="none" stroke="#484848" stroke-width="3.6" stroke-linecap="round" stroke-linejoin="round"/>
<path d="M188.0 50.2C188.9 50.2 191.3 50.8 193.4 49.9C195.5 49.0 198.8 47.1 200.6 45.1C202.4 43.1 204.1 39.9 204.3 37.6C204.5 35.3 203.1 32.7 201.9 31.5C200.7 30.3 197.8 30.5 197.0 30.3" fill="none" stroke="#828282" stroke-width="1.8" stroke-linecap="round" stroke-linejoin="round"/>
<ellipse cx="183.0" cy="49.5" rx="1.6" ry="1.1" fill="#e1e1e1" filter="url(#pb1)"/>
<path d="M77.9 98.2C78.3 96.6 79.4 95.2 82.1 92.2C84.8 89.2 90.2 84.2 94.3 80.0C98.3 75.8 103.2 70.7 106.4 66.7C109.6 62.7 111.5 58.2 113.7 55.8C115.9 53.4 117.7 52.5 119.7 52.1C121.7 51.7 124.4 52.3 125.8 53.3C127.2 54.3 128.4 56.0 128.2 58.2C128.0 60.4 126.6 63.7 124.6 66.7C122.6 69.7 119.1 73.2 116.1 76.4C113.1 79.6 110.0 82.9 106.4 86.1C102.8 89.3 97.9 93.4 94.3 95.8C90.7 98.2 87.0 99.6 84.6 100.6C82.2 101.6 80.8 102.3 79.7 101.9C78.6 101.5 77.5 99.8 77.9 98.2Z" fill="url(#pg17)"/>
<path d="M89.0 91.0C90.2 89.8 93.7 86.5 96.0 84.0C98.3 81.5 101.8 77.3 103.0 76.0" fill="none" stroke="#d7d7d7" stroke-width="1.4" stroke-linecap="round" stroke-linejoin="round" filter="url(#pb1)" opacity="0.85"/>
<ellipse cx="109.5" cy="72.0" rx="1.2" ry="1.2" fill="#d7d7d7" filter="url(#pb1)"/>
<path d="M127.0 55.8C127.8 56.6 131.0 58.8 131.9 60.6C132.8 62.4 132.9 64.9 132.5 66.7C132.1 68.5 129.9 70.7 129.4 71.5" fill="none" stroke="#262626" stroke-width="1.3" stroke-linecap="round" stroke-linejoin="round"/>
<path d="M118.5 73.9C122.1 72.9 124.8 72.7 128.0 72.6C131.2 72.5 134.6 73.4 137.9 73.3C141.2 73.2 144.8 71.2 147.6 72.1C150.4 73.0 151.7 76.3 154.9 78.8C158.1 81.3 164.7 84.7 167.0 87.3C169.3 89.9 169.0 91.9 168.8 94.5C168.6 97.1 166.5 99.3 165.8 103.0C165.1 106.7 164.6 111.4 164.6 116.4C164.6 121.4 165.6 128.1 165.8 133.0C166.0 137.9 168.6 142.8 166.0 146.0C163.4 149.2 156.8 151.3 150.0 152.0C143.2 152.7 132.5 151.0 125.0 150.0C117.5 149.0 110.8 147.7 105.0 146.0C99.2 144.3 93.6 142.2 90.0 140.0C86.4 137.8 84.0 136.5 83.3 133.0C82.6 129.5 85.0 122.4 85.8 118.8C86.6 115.2 87.4 114.9 88.2 111.5C89.0 108.1 89.0 102.2 90.6 98.2C92.2 94.2 95.3 90.5 97.9 87.3C100.5 84.1 103.0 81.0 106.4 78.8C109.8 76.6 114.9 74.9 118.5 73.9Z" fill="url(#pg18)"/>
<path d="M99.0 97.0C100.5 95.7 104.2 91.3 108.0 89.0C111.8 86.7 116.7 84.2 122.0 83.0C127.3 81.8 137.0 82.2 140.0 82.0" fill="none" stroke="#f0f0f0" stroke-width="5" stroke-linecap="round" stroke-linejoin="round" filter="url(#pb3)" opacity="0.85"/>
<ellipse cx="112.2" cy="120.3" rx="1.5" ry="2.0" fill="#ffffff" filter="url(#pb1)"/>
<path d="M118.5 73.9C122.1 72.9 124.8 72.7 128.0 72.6C131.2 72.5 134.6 73.4 137.9 73.3C141.2 73.2 144.8 71.2 147.6 72.1C150.4 73.0 151.7 76.3 154.9 78.8C158.1 81.3 164.7 84.7 167.0 87.3C169.3 89.9 169.0 91.9 168.8 94.5C168.6 97.1 166.5 99.3 165.8 103.0C165.1 106.7 164.6 111.4 164.6 116.4C164.6 121.4 165.6 128.1 165.8 133.0C166.0 137.9 168.6 142.8 166.0 146.0C163.4 149.2 156.8 151.3 150.0 152.0C143.2 152.7 132.5 151.0 125.0 150.0C117.5 149.0 110.8 147.7 105.0 146.0C99.2 144.3 93.6 142.2 90.0 140.0C86.4 137.8 84.0 136.5 83.3 133.0C82.6 129.5 85.0 122.4 85.8 118.8C86.6 115.2 87.4 114.9 88.2 111.5C89.0 108.1 89.0 102.2 90.6 98.2C92.2 94.2 95.3 90.5 97.9 87.3C100.5 84.1 103.0 81.0 106.4 78.8C109.8 76.6 114.9 74.9 118.5 73.9Z" fill="url(#pg19)"/>
<path d="M169.1 88.5C170.9 85.9 173.6 84.8 176.4 83.6C179.2 82.4 183.1 82.1 186.1 81.2C189.1 80.3 191.2 79.0 194.6 78.2C198.0 77.4 202.7 76.6 206.7 76.3C210.7 76.0 214.8 76.0 218.8 76.3C222.9 76.6 226.9 77.4 231.0 78.2C235.1 79.0 238.9 80.2 243.1 81.2C247.3 82.2 253.8 68.5 256.0 84.0C258.1 99.5 258.1 158.8 256.0 174.0C253.8 189.2 248.3 174.8 243.1 175.3C237.9 175.8 232.0 176.5 224.9 177.0C217.8 177.5 208.7 178.5 200.6 178.3C192.5 178.1 181.7 177.7 176.4 176.0C171.2 174.3 170.5 172.3 169.1 168.0C167.7 163.7 168.8 154.7 168.0 150.0C167.2 145.3 165.0 142.8 164.0 140.0C163.0 137.2 161.9 137.3 161.8 133.0C161.8 128.7 163.1 119.6 163.7 114.0C164.3 108.4 164.6 103.7 165.5 99.4C166.4 95.2 167.3 91.1 169.1 88.5Z" fill="url(#pg20)"/>
<path d="M183.0 86.0C183.8 87.0 186.5 89.7 188.0 92.0C189.5 94.3 190.8 96.7 192.0 100.0C193.2 103.3 194.5 110.0 195.0 112.0" fill="none" stroke="#222222" stroke-width="4" stroke-linecap="round" stroke-linejoin="round" filter="url(#pb2)" opacity="0.85"/>
<path d="M197.0 131.0C198.8 130.4 204.2 127.9 208.0 127.5C211.8 127.1 218.0 128.3 220.0 128.5" fill="none" stroke="#1e1e1e" stroke-width="6" stroke-linecap="round" stroke-linejoin="round" filter="url(#pb3)" opacity="0.85"/>
<path d="M220.0 128.5C222.5 128.2 230.0 126.9 235.0 127.0C240.0 127.1 247.5 128.7 250.0 129.0" fill="none" stroke="#2c2c2c" stroke-width="4" stroke-linecap="round" stroke-linejoin="round" filter="url(#pb3)" opacity="0.5"/>
<path d="M193.0 83.5C195.0 83.2 200.2 81.4 205.0 81.5C209.8 81.6 219.2 83.6 222.0 84.0" fill="none" stroke="#969696" stroke-width="2" stroke-linecap="round" stroke-linejoin="round" filter="url(#pb1)" opacity="0.85"/>
<ellipse cx="208.0" cy="97.0" rx="2.0" ry="2.0" fill="#c8c8c8" filter="url(#pb1)"/>
<ellipse cx="202.0" cy="137.3" rx="2.0" ry="1.5" fill="#b4b4b4" filter="url(#pb1)"/>
<ellipse cx="225.0" cy="106.0" rx="20.0" ry="10.0" fill="#424242" filter="url(#pb5)" opacity="0.8"/>
<ellipse cx="172.0" cy="110.0" rx="6.0" ry="22.0" fill="#4c4c4c" filter="url(#pb3)" opacity="0.85"/>
<ellipse cx="236.0" cy="150.0" rx="12.0" ry="12.0" fill="#343434" filter="url(#pb5)" opacity="0.8"/>
<path d="M179.0 112.0C179.5 109.3 181.5 105.8 183.0 104.0C184.5 102.2 186.3 100.7 188.0 101.0C189.7 101.3 191.8 103.5 193.0 106.0C194.2 108.5 194.5 112.3 195.0 116.0C195.5 119.7 196.3 124.3 196.0 128.0C195.7 131.7 194.5 135.7 193.0 138.0C191.5 140.3 189.0 141.8 187.0 142.0C185.0 142.2 182.4 141.3 181.0 139.0C179.6 136.7 178.7 131.2 178.5 128.0C178.3 124.8 179.9 122.7 180.0 120.0C180.1 117.3 178.5 114.7 179.0 112.0Z" fill="#626262" filter="url(#pb2)"/>
<path d="M181.0 124.0C181.5 121.5 182.7 117.8 184.0 116.0C185.3 114.2 187.5 112.5 189.0 113.0C190.5 113.5 192.2 116.5 193.0 119.0C193.8 121.5 194.0 125.3 193.5 128.0C193.0 130.7 191.6 133.7 190.0 135.0C188.4 136.3 185.5 136.7 184.0 136.0C182.5 135.3 181.5 133.0 181.0 131.0C180.5 129.0 180.5 126.5 181.0 124.0Z" fill="#a5a5a5" filter="url(#pb2)"/>
<ellipse cx="186.0" cy="108.0" rx="3.0" ry="4.0" fill="#7d7d7d" filter="url(#pb2)"/>
<path d="M181.0 121.0C181.8 121.4 184.2 123.5 186.0 123.5C187.8 123.5 191.0 121.4 192.0 121.0" fill="none" stroke="#505050" stroke-width="1.4" stroke-linecap="round" stroke-linejoin="round" filter="url(#pb1)" opacity="0.8"/>
<path d="M182.0 130.0C182.8 130.2 185.3 131.6 187.0 131.5C188.7 131.4 191.2 129.8 192.0 129.5" fill="none" stroke="#5f5f5f" stroke-width="1.2" stroke-linecap="round" stroke-linejoin="round" filter="url(#pb1)" opacity="0.8"/>
<ellipse cx="190.0" cy="126.0" rx="1.6" ry="1.4" fill="#d7d7d7" filter="url(#pb1)"/>
<path d="M-6.0 103.0C-3.0 98.9 7.0 101.7 12.0 101.5C17.0 101.3 21.0 101.4 24.0 101.8C27.0 102.2 28.3 102.6 30.0 104.0C31.7 105.4 33.5 108.0 34.0 110.0C34.5 112.0 34.3 114.4 33.0 116.0C31.7 117.6 29.0 118.7 26.0 119.5C23.0 120.3 18.5 120.4 15.0 121.0C11.5 121.6 8.5 122.2 5.0 123.0C1.5 123.8 -4.2 129.3 -6.0 126.0C-7.8 122.7 -9.0 107.1 -6.0 103.0Z" fill="url(#pg21)"/>
<ellipse cx="11.0" cy="109.5" rx="4.0" ry="2.5" fill="#e4e4e4" filter="url(#pb2)"/>
<path d="M-6.0 125.0C-3.3 116.8 4.8 121.6 10.0 120.5C15.2 119.4 20.0 118.9 25.0 118.5C30.0 118.1 35.8 117.8 40.0 118.0C44.2 118.2 47.3 118.5 50.0 120.0C52.7 121.5 55.0 124.0 56.0 127.0C57.0 130.0 57.0 135.5 56.0 138.0C55.0 140.5 52.7 141.0 50.0 142.0C47.3 143.0 43.3 143.0 40.0 144.0C36.7 145.0 32.7 146.2 30.0 148.0C27.3 149.8 25.5 152.2 24.0 155.0C22.5 157.8 21.7 162.2 21.0 165.0C20.3 167.8 21.8 170.8 20.0 172.0C18.2 173.2 14.3 172.3 10.0 172.0C5.7 171.7 -3.3 177.8 -6.0 170.0C-8.7 162.2 -8.7 133.2 -6.0 125.0Z" fill="url(#pg22)"/>
<ellipse cx="25.0" cy="133.5" rx="5.0" ry="2.0" fill="#bebebe" transform="rotate(-10 25.0 133.5)" filter="url(#pb2)"/>
<path d="M-6.0 168.0C-3.3 165.5 5.3 168.7 10.0 169.0C14.7 169.3 19.7 168.5 22.0 170.0C24.3 171.5 24.3 175.8 24.0 178.0C23.7 180.2 22.7 182.0 20.0 183.0C17.3 184.0 12.3 183.8 8.0 184.0C3.7 184.2 -3.7 186.7 -6.0 184.0C-8.3 181.3 -8.7 170.5 -6.0 168.0Z" fill="url(#pg23)"/>
<path d="M-6.0 91.0C-5.0 88.7 -3.0 90.9 0.0 89.7C3.0 88.5 8.5 86.4 12.1 83.6C15.7 80.8 19.5 76.1 21.8 72.7C24.1 69.3 24.7 65.4 26.1 63.0C27.5 60.6 28.0 59.3 30.3 58.2C32.6 57.1 37.0 56.4 40.0 56.4C43.0 56.4 46.1 56.7 48.5 58.2C50.9 59.7 53.1 62.9 54.6 65.5C56.1 68.1 57.6 70.3 57.6 73.9C57.6 77.5 56.1 83.7 54.6 87.3C53.1 90.9 51.5 93.5 48.5 95.7C45.5 97.9 40.4 99.6 36.4 100.6C32.4 101.6 28.4 101.6 24.3 101.8C20.2 102.0 17.1 101.7 12.1 102.0C7.0 102.3 -3.0 105.3 -6.0 103.5C-9.0 101.7 -7.0 93.3 -6.0 91.0Z" fill="url(#pg24)"/>
<path d="M10.0 92.0C12.3 90.7 20.0 87.0 24.0 84.0C28.0 81.0 31.3 77.3 34.0 74.0C36.7 70.7 39.0 65.7 40.0 64.0" fill="none" stroke="#545454" stroke-width="3" stroke-linecap="round" stroke-linejoin="round" filter="url(#pb2)" opacity="0.8"/>
<path d="M4.0 97.0C6.7 96.2 15.0 93.8 20.0 92.0C25.0 90.2 29.7 88.7 34.0 86.0C38.3 83.3 44.0 77.7 46.0 76.0" fill="none" stroke="#2c2c2c" stroke-width="3" stroke-linecap="round" stroke-linejoin="round" filter="url(#pb2)" opacity="0.7"/>
<ellipse cx="40.0" cy="59.5" rx="3.0" ry="1.2" fill="#787878" filter="url(#pb1)"/>
<ellipse cx="33.0" cy="72.0" rx="3.0" ry="5.0" fill="#525252" transform="rotate(35 33.0 72.0)" filter="url(#pb2)" opacity="0.8"/>
<ellipse cx="22.0" cy="88.0" rx="6.0" ry="2.0" fill="#505050" transform="rotate(-30 22.0 88.0)" filter="url(#pb2)" opacity="0.8"/>
<ellipse cx="45.0" cy="84.0" rx="4.0" ry="7.0" fill="#282828" transform="rotate(20 45.0 84.0)" filter="url(#pb3)" opacity="0.8"/>
<path d="M32.0 113.0C31.7 111.2 33.7 107.7 36.0 106.0C38.3 104.3 42.7 103.2 46.0 103.0C49.3 102.8 53.5 103.3 56.0 104.5C58.5 105.7 60.7 108.1 61.0 110.0C61.3 111.9 60.2 114.7 58.0 116.0C55.8 117.3 51.3 117.8 48.0 118.0C44.7 118.2 40.7 117.8 38.0 117.0C35.3 116.2 32.3 114.8 32.0 113.0Z" fill="#3e3e3e" filter="url(#pb1)"/>
<path d="M33.0 112.0C33.0 110.3 36.5 107.3 38.0 107.0C39.5 106.7 41.0 108.7 42.0 110.0C43.0 111.3 44.7 113.8 44.0 115.0C43.3 116.2 39.8 117.5 38.0 117.0C36.2 116.5 33.0 113.7 33.0 112.0Z" fill="#696969" filter="url(#pb1)"/>
<path d="M36.0 106.0C37.7 105.5 42.7 103.0 46.0 102.8C49.3 102.5 53.5 103.5 56.0 104.5C58.5 105.5 60.2 108.2 61.0 109.0" fill="none" stroke="#787878" stroke-width="1.2" stroke-linecap="round" stroke-linejoin="round" opacity="0.8"/>
<path d="M70.0 120.0C72.0 117.7 75.8 122.2 80.0 124.0C84.2 125.8 90.0 128.7 95.0 131.0C100.0 133.3 105.5 135.7 110.0 138.0C114.5 140.3 118.5 143.0 122.0 145.0C125.5 147.0 130.7 148.3 131.0 150.0C131.3 151.7 127.2 153.8 124.0 155.0C120.8 156.2 116.0 157.2 112.0 157.5C108.0 157.8 103.7 157.8 100.0 157.0C96.3 156.2 93.3 154.8 90.0 153.0C86.7 151.2 83.7 148.5 80.0 146.0C76.3 143.5 69.7 142.3 68.0 138.0C66.3 133.7 68.0 122.3 70.0 120.0Z" fill="url(#pg25)"/>
<path d="M90.0 138.5C91.7 138.9 96.3 140.1 100.0 141.0C103.7 141.9 108.5 142.8 112.0 144.0C115.5 145.2 119.5 147.3 121.0 148.0" fill="none" stroke="#7d7d7d" stroke-width="1.6" stroke-linecap="round" stroke-linejoin="round" filter="url(#pb1)" opacity="0.8"/>
<ellipse cx="66.5" cy="123.0" rx="17.0" ry="16.0" fill="url(#pg26)" transform="rotate(20 66.5 123.0)"/>
<path d="M57.0 113.0C57.8 112.2 59.8 109.5 62.0 108.5C64.2 107.5 67.3 106.9 70.0 107.0C72.7 107.1 75.8 107.7 78.0 109.0C80.2 110.3 82.2 114.0 83.0 115.0" fill="none" stroke="#878787" stroke-width="1.8" stroke-linecap="round" stroke-linejoin="round"/>
<ellipse cx="70.0" cy="115.0" rx="5.0" ry="2.0" fill="#5f5f5f" filter="url(#pb1)"/>
<path d="M128.0 134.0C129.5 132.0 132.2 130.0 135.0 129.0C137.8 128.0 141.7 127.5 145.0 128.0C148.3 128.5 152.0 130.3 155.0 132.0C158.0 133.7 160.8 135.7 163.0 138.0C165.2 140.3 167.5 143.9 168.0 146.0C168.5 148.1 168.2 149.8 166.0 150.5C163.8 151.2 159.3 149.9 155.0 150.0C150.7 150.1 144.2 151.2 140.0 151.0C135.8 150.8 132.3 150.7 130.0 149.0C127.7 147.3 126.3 143.5 126.0 141.0C125.7 138.5 126.5 136.0 128.0 134.0Z" fill="url(#pg27)"/>
<path d="M126.0 124.0C127.5 122.8 130.5 121.5 133.0 121.5C135.5 121.5 139.2 122.6 141.0 124.0C142.8 125.4 144.0 127.8 144.0 130.0C144.0 132.2 142.8 135.5 141.0 137.0C139.2 138.5 135.5 139.3 133.0 139.0C130.5 138.7 127.5 136.7 126.0 135.0C124.5 133.3 124.0 130.8 124.0 129.0C124.0 127.2 124.5 125.2 126.0 124.0Z" fill="#787878" filter="url(#pb1)"/>
<path d="M129.0 126.0C129.3 124.5 133.2 123.8 135.0 124.0C136.8 124.2 139.3 125.7 140.0 127.0C140.7 128.3 140.2 131.0 139.0 132.0C137.8 133.0 134.7 134.0 133.0 133.0C131.3 132.0 128.7 127.5 129.0 126.0Z" fill="#afafaf" filter="url(#pb1)"/>
<path d="M110.0 126.7C111.5 126.8 116.0 127.1 119.0 127.6C122.0 128.1 126.7 129.3 128.2 129.7" fill="none" stroke="#3e3e3e" stroke-width="2" stroke-linecap="round" stroke-linejoin="round"/>
<ellipse cx="77.0" cy="164.0" rx="12.5" ry="15.5" fill="url(#pg28)" transform="rotate(-15 77.0 164.0)"/>
<path d="M74.9 175.5C75.7 173.0 80.3 169.7 84.6 167.0C88.8 164.4 94.7 162.0 100.3 159.7C106.0 157.5 112.4 155.5 118.5 153.7C124.6 151.9 131.0 149.9 136.7 148.8C142.4 147.7 148.4 146.9 152.5 147.0C156.5 147.1 158.7 147.9 161.0 149.4C163.2 151.0 164.6 153.4 165.8 156.1C167.0 158.8 168.0 162.6 168.2 165.8C168.4 169.0 168.0 173.1 167.0 175.5C166.0 177.9 166.2 179.1 162.2 180.4C158.1 181.6 150.0 182.5 142.8 183.0C135.5 183.6 126.6 183.7 118.5 183.8C110.4 183.8 100.7 183.5 94.3 183.2C87.8 182.8 82.9 183.1 79.7 181.8C76.5 180.5 74.0 178.0 74.9 175.5Z" fill="url(#pg29)"/>
<path d="M100.3 162.2C103.4 161.4 112.4 158.8 118.5 157.3C124.6 155.8 130.8 154.0 136.7 153.1C142.6 152.2 150.9 152.1 153.7 151.9" fill="none" stroke="#8c8c8c" stroke-width="1.6" stroke-linecap="round" stroke-linejoin="round" filter="url(#pb1)" opacity="0.85"/>
<path d="M106.4 168.8C109.4 168.3 118.5 167.0 124.6 165.8C130.6 164.6 139.7 162.3 142.8 161.6" fill="none" stroke="#696969" stroke-width="1.6" stroke-linecap="round" stroke-linejoin="round" filter="url(#pb1)" opacity="0.8"/>
<ellipse cx="139.7" cy="156.7" rx="1.8" ry="1.4" fill="#ebebeb" filter="url(#pb1)"/>
<ellipse cx="153.7" cy="155.6" rx="2.0" ry="1.0" fill="#e6e6e6" filter="url(#pb1)"/>
<path d="M165.5 160.0C165.8 156.7 168.1 154.3 170.0 152.0C171.9 149.7 174.7 147.1 177.0 146.0C179.3 144.9 182.4 144.8 184.0 145.5C185.6 146.2 186.7 148.2 186.5 150.0C186.3 151.8 184.8 154.3 183.0 156.0C181.2 157.7 178.2 158.3 176.0 160.0C173.8 161.7 171.3 164.0 170.0 166.0C168.7 168.0 168.8 173.0 168.0 172.0C167.2 171.0 165.2 163.3 165.5 160.0Z" fill="url(#pg30)"/>
<path d="M80.0 183.5C86.7 183.7 106.7 184.6 120.0 184.5C133.3 184.4 146.7 183.8 160.0 183.0C173.3 182.2 185.8 180.7 200.0 179.5C214.2 178.3 237.5 176.6 245.0 176.0" fill="none" stroke="#121212" stroke-width="3" stroke-linecap="round" stroke-linejoin="round" filter="url(#pb2)" opacity="0.95"/>
<path d="M21.2 162.2C21.5 159.5 20.7 157.3 21.8 154.9C22.9 152.5 25.5 149.5 27.9 147.6C30.3 145.7 32.9 144.5 36.4 143.4C39.8 142.3 44.9 141.3 48.5 140.9C52.2 140.6 55.4 141.0 58.2 141.6C61.0 142.1 63.3 142.6 65.5 144.0C67.7 145.4 69.9 147.6 71.6 150.0C73.2 152.5 74.5 155.5 75.2 158.5C75.9 161.6 76.2 165.0 75.8 168.2C75.4 171.5 74.5 175.3 72.8 177.9C71.1 180.6 68.7 182.4 65.5 184.0C62.3 185.6 57.6 186.9 53.4 187.6C49.1 188.4 43.9 188.7 40.0 188.2C36.2 187.8 32.9 186.7 30.3 185.2C27.7 183.7 26.0 181.6 24.3 179.2C22.5 176.7 20.5 173.5 20.0 170.7C19.5 167.8 20.9 164.8 21.2 162.2Z" fill="url(#pg31)"/>
<ellipse cx="29.0" cy="163.0" rx="7.0" ry="14.0" fill="#f6f6f6" filter="url(#pb3)" opacity="0.8"/>
<path d="M32.1 155.5C32.8 154.8 38.7 154.1 40.0 154.3C41.4 154.4 47.5 156.6 48.5 157.3C49.5 158.1 52.0 162.2 52.2 163.4C52.4 164.6 51.5 170.9 50.9 171.9C50.3 172.9 46.0 175.0 44.9 175.5C43.8 176.1 38.7 178.7 37.6 178.5C36.5 178.3 32.3 173.9 31.5 173.1C30.8 172.3 28.5 169.8 28.5 168.8C28.5 167.9 31.2 163.3 31.5 162.2C31.8 161.1 31.4 156.2 32.1 155.5Z" fill="#a6a6a6" filter="url(#pb1)"/>
<path d="M36.4 157.3C37.6 155.7 39.6 157.5 41.2 158.5C42.9 159.5 45.3 161.6 46.1 163.4C46.9 165.2 47.1 167.8 46.1 169.4C45.1 171.1 42.0 173.3 40.0 173.1C38.0 172.9 34.6 170.9 34.0 168.2C33.4 165.6 35.2 158.9 36.4 157.3Z" fill="#bababa" filter="url(#pb1)"/>
<path d="M38.5 163.6C40.1 163.3 44.8 162.2 48.0 161.6C51.2 161.0 55.9 160.4 57.5 160.2" fill="none" stroke="#8e8e8e" stroke-width="3.4" stroke-linecap="round" stroke-linejoin="round"/>
<ellipse cx="57.5" cy="160.2" rx="1.5" ry="2.0" fill="#5f5f5f"/>
<ellipse cx="242.5" cy="185.0" rx="4.0" ry="5.0" fill="#141414" filter="url(#pb2)"/>
<ellipse cx="249.5" cy="175.0" rx="6.5" ry="13.5" fill="#eeeeee"/></g></g></g>
<g transform="translate(583,43)" clip-path="url(#imclip)"><g filter="url(#eq)"><rect width="249" height="197" fill="#000"/><use href="#pep"/></g></g>
<!-- bottom row: histograms -->
<text transform="translate(285.8,310.8) scale(1,1.06)" text-anchor="middle" font-size="14.67" font-weight="bold">Histogram of original Image</text>
<text transform="translate(707.8,310.8) scale(1,1.06)" text-anchor="middle" font-size="14.67" font-weight="bold">Histogram of equalized Image</text>
<use href="#hbars1"/>
<g fill="#232323" shape-rendering="crispEdges"><rect x="548" y="477" width="1" height="36.5"/><rect x="549" y="466" width="1" height="47.5"/><rect x="550" y="469" width="1" height="44.5"/><rect x="552" y="485.5" width="1" height="28"/><rect x="553" y="456.5" width="1" height="57"/><rect x="554" y="478.5" width="1" height="35"/><rect x="555" y="485" width="1" height="28.5"/><rect x="557" y="480" width="1" height="33.5"/><rect x="558" y="474" width="1" height="39.5"/><rect x="559" y="438.5" width="1" height="75"/><rect x="560" y="474.5" width="1" height="39"/><rect x="562" y="467.5" width="1" height="46"/><rect x="563" y="471" width="1" height="42.5"/><rect x="565" y="465.5" width="1" height="48"/><rect x="567" y="454.5" width="1" height="59"/><rect x="569" y="449" width="1" height="64.5"/><rect x="570" y="445.5" width="1" height="68"/><rect x="573" y="430" width="1" height="83.5"/><rect x="575" y="430" width="1" height="83.5"/><rect x="578" y="421" width="1" height="92.5"/><rect x="582" y="392.5" width="1" height="121"/><rect x="586" y="381.5" width="1" height="132"/><rect x="591" y="356" width="1" height="157.5"/><rect x="596" y="342.5" width="1" height="171"/><rect x="601" y="339.5" width="1" height="174"/><rect x="606" y="351.5" width="1" height="162"/><rect x="609" y="356" width="1" height="157.5"/><rect x="614" y="354.5" width="1" height="159"/><rect x="620" y="357.5" width="1" height="156"/><rect x="623" y="369.5" width="1" height="144"/><rect x="627" y="395.5" width="1" height="118"/><rect x="630" y="409.5" width="1" height="104"/><rect x="633" y="411" width="1" height="102.5"/><rect x="636" y="411" width="1" height="102.5"/><rect x="640" y="418.5" width="1" height="95"/><rect x="642" y="423.5" width="1" height="90"/><rect x="645" y="421.5" width="1" height="92"/><rect x="647" y="421.5" width="1" height="92"/><rect x="650" y="414.5" width="1" height="99"/><rect x="653" y="419.5" width="1" height="94"/><rect x="654" y="419.5" width="1" height="94"/><rect x="656" y="418.5" width="1" height="95"/><rect x="659" y="424.5" width="1" height="89"/><rect x="661" y="425.5" width="1" height="88"/><rect x="664" y="419.5" width="1" height="94"/><rect x="666" y="433.5" width="1" height="80"/><rect x="669" y="427.5" width="1" height="86"/><rect x="671" y="429.5" width="1" height="84"/><rect x="674" y="428.5" width="1" height="85"/><rect x="676" y="437.5" width="1" height="76"/><rect x="679" y="441.5" width="1" height="72"/><rect x="680" y="435.5" width="1" height="78"/><rect x="682" y="437.5" width="1" height="76"/><rect x="685" y="440.5" width="1" height="73"/><rect x="687" y="442.5" width="1" height="71"/><rect x="689" y="435.5" width="1" height="78"/><rect x="691" y="441.5" width="1" height="72"/><rect x="694" y="437.5" width="1" height="76"/><rect x="696" y="444.5" width="1" height="69"/><rect x="698" y="435.5" width="1" height="78"/><rect x="700" y="443.5" width="1" height="70"/><rect x="703" y="441.5" width="1" height="72"/><rect x="704" y="442.5" width="1" height="71"/><rect x="706" y="434.5" width="1" height="79"/><rect x="709" y="441" width="1" height="72.5"/><rect x="711" y="435.5" width="1" height="78"/><rect x="714" y="438.5" width="1" height="75"/><rect x="715" y="441.5" width="1" height="72"/><rect x="718" y="437.5" width="1" height="76"/><rect x="720" y="439.5" width="1" height="74"/><rect x="723" y="438.5" width="1" height="75"/><rect x="724" y="446.5" width="1" height="67"/><rect x="727" y="438.5" width="1" height="75"/><rect x="729" y="439.5" width="1" height="74"/><rect x="730" y="446.5" width="1" height="67"/><rect x="733" y="447.5" width="1" height="66"/><rect x="734" y="444.5" width="1" height="69"/><rect x="737" y="446.5" width="1" height="67"/><rect x="739" y="441" width="1" height="72.5"/><rect x="740" y="443.5" width="1" height="70"/><rect x="743" y="440.5" width="1" height="73"/><rect x="745" y="445.5" width="1" height="68"/><rect x="747" y="443.5" width="1" height="70"/><rect x="749" y="442.5" width="1" height="71"/><rect x="752" y="445.5" width="1" height="68"/><rect x="753" y="444.5" width="1" height="69"/><rect x="755" y="440.5" width="1" height="73"/><rect x="758" y="446.5" width="1" height="67"/><rect x="759" y="453" width="1" height="60.5"/><rect x="760" y="453" width="1" height="60.5"/><rect x="761" y="453" width="1" height="60.5"/><rect x="763" y="451.5" width="1" height="62"/><rect x="764" y="448.5" width="1" height="65"/><rect x="767" y="451.5" width="1" height="62"/><rect x="768" y="446.5" width="1" height="67"/><rect x="771" y="450.5" width="1" height="63"/><rect x="773" y="445.5" width="1" height="68"/><rect x="774" y="450.5" width="1" height="63"/><rect x="776" y="455.5" width="1" height="58"/><rect x="778" y="450.5" width="1" height="63"/><rect x="779" y="461.5" width="1" height="52"/><rect x="781" y="457.5" width="1" height="56"/><rect x="783" y="459.5" width="1" height="54"/><rect x="784" y="459.5" width="1" height="54"/><rect x="786" y="464.5" width="1" height="49"/><rect x="787" y="459.5" width="1" height="54"/><rect x="789" y="454.5" width="1" height="59"/><rect x="791" y="461.5" width="1" height="52"/><rect x="792" y="465.5" width="1" height="48"/><rect x="793" y="458" width="1" height="55.5"/><rect x="796" y="463.5" width="1" height="50"/><rect x="797" y="463.5" width="1" height="50"/><rect x="798" y="461.5" width="1" height="52"/><rect x="800" y="464.5" width="1" height="49"/><rect x="801" y="466.5" width="1" height="47"/><rect x="803" y="462.5" width="1" height="51"/><rect x="805" y="464.5" width="1" height="49"/><rect x="806" y="466" width="1" height="47.5"/><rect x="807" y="470.5" width="1" height="43"/><rect x="808" y="470.5" width="1" height="43"/><rect x="810" y="471" width="1" height="42.5"/><rect x="811" y="474.5" width="1" height="39"/><rect x="812" y="468.5" width="1" height="45"/><rect x="813" y="474" width="1" height="39.5"/><rect x="815" y="470.5" width="1" height="43"/><rect x="816" y="468.5" width="1" height="45"/><rect x="817" y="476.5" width="1" height="37"/><rect x="818" y="441.5" width="1" height="72"/><rect x="820" y="479" width="1" height="34.5"/><rect x="821" y="480.5" width="1" height="33"/><rect x="822" y="458" width="1" height="55.5"/><rect x="823" y="487.5" width="1" height="26"/><rect x="825" y="457.5" width="1" height="56"/><rect x="826" y="465.5" width="1" height="48"/><rect x="827" y="487.5" width="1" height="26"/><rect x="828" y="465.5" width="1" height="48"/><rect x="830" y="472.5" width="1" height="41"/><rect x="831" y="464" width="1" height="49.5"/><rect x="832" y="474" width="1" height="39.5"/><rect x="834" y="470.5" width="1" height="43"/><rect x="835" y="474" width="1" height="39.5"/><rect x="836" y="467.5" width="1" height="46"/><rect x="837" y="467.5" width="1" height="46"/><rect x="839" y="468.5" width="1" height="45"/><rect x="840" y="493.5" width="1" height="20"/><rect x="841" y="465.5" width="1" height="48"/><rect x="842" y="454.5" width="1" height="59"/><rect x="844" y="492" width="1" height="21.5"/><rect x="845" y="451.5" width="1" height="62"/><rect x="846" y="492" width="1" height="21.5"/><rect x="847" y="459.5" width="1" height="54"/><rect x="849" y="479.5" width="1" height="34"/><rect x="850" y="470.5" width="1" height="43"/><rect x="851" y="461.5" width="1" height="52"/><rect x="852" y="471" width="1" height="42.5"/><rect x="854" y="472.5" width="1" height="41"/><rect x="855" y="478.5" width="1" height="35"/><rect x="856" y="461.5" width="1" height="52"/><rect x="857" y="474.5" width="1" height="39"/><rect x="859" y="470" width="1" height="43.5"/><rect x="860" y="464.5" width="1" height="49"/><rect x="861" y="472.5" width="1" height="41"/><rect x="862" y="478.5" width="1" height="35"/><rect x="864" y="465.5" width="1" height="48"/><rect x="865" y="476.5" width="1" height="37"/><rect x="866" y="463.5" width="1" height="50"/></g>
<g shape-rendering="crispEdges"><rect x="125.5" y="317.5" width="320" height="196" fill="none" stroke="#262626" stroke-width="1"/><path d="M125.5 513.5v-3.5M125.5 317.5v3.5" stroke="#262626" stroke-width="1" fill="none"/><text transform="translate(125.7,531) scale(1,1.07)" text-anchor="middle" font-size="13.33">0</text><path d="M187.5 513.5v-3.5M187.5 317.5v3.5" stroke="#262626" stroke-width="1" fill="none"/><text transform="translate(187.7,531) scale(1,1.07)" text-anchor="middle" font-size="13.33">50</text><path d="M250.5 513.5v-3.5M250.5 317.5v3.5" stroke="#262626" stroke-width="1" fill="none"/><text transform="translate(250.7,531) scale(1,1.07)" text-anchor="middle" font-size="13.33">100</text><path d="M313.5 513.5v-3.5M313.5 317.5v3.5" stroke="#262626" stroke-width="1" fill="none"/><text transform="translate(313.7,531) scale(1,1.07)" text-anchor="middle" font-size="13.33">150</text><path d="M376.5 513.5v-3.5M376.5 317.5v3.5" stroke="#262626" stroke-width="1" fill="none"/><text transform="translate(376.7,531) scale(1,1.07)" text-anchor="middle" font-size="13.33">200</text><path d="M439.5 513.5v-3.5M439.5 317.5v3.5" stroke="#262626" stroke-width="1" fill="none"/><text transform="translate(439.7,531) scale(1,1.07)" text-anchor="middle" font-size="13.33">250</text><path d="M125.5 513.5h3.5M445.5 513.5h-3.5" stroke="#262626" stroke-width="1" fill="none"/><text transform="translate(119.5,518.4) scale(1,1.07)" text-anchor="end" font-size="13.33">0</text><path d="M125.5 448.5h3.5M445.5 448.5h-3.5" stroke="#262626" stroke-width="1" fill="none"/><text transform="translate(119.5,453.4) scale(1,1.07)" text-anchor="end" font-size="13.33">500</text><path d="M125.5 382.5h3.5M445.5 382.5h-3.5" stroke="#262626" stroke-width="1" fill="none"/><text transform="translate(119.5,387.4) scale(1,1.07)" text-anchor="end" font-size="13.33">1000</text><path d="M125.5 317.5h3.5M445.5 317.5h-3.5" stroke="#262626" stroke-width="1" fill="none"/><text transform="translate(119.5,322.4) scale(1,1.07)" text-anchor="end" font-size="13.33">1500</text></g>
<g transform="translate(422,0)"><g shape-rendering="crispEdges"><rect x="125.5" y="317.5" width="320" height="196" fill="none" stroke="#262626" stroke-width="1"/><path d="M125.5 513.5v-3.5M125.5 317.5v3.5" stroke="#262626" stroke-width="1" fill="none"/><text transform="translate(125.7,531) scale(1,1.07)" text-anchor="middle" font-size="13.33">0</text><path d="M187.5 513.5v-3.5M187.5 317.5v3.5" stroke="#262626" stroke-width="1" fill="none"/><text transform="translate(187.7,531) scale(1,1.07)" text-anchor="middle" font-size="13.33">50</text><path d="M250.5 513.5v-3.5M250.5 317.5v3.5" stroke="#262626" stroke-width="1" fill="none"/><text transform="translate(250.7,531) scale(1,1.07)" text-anchor="middle" font-size="13.33">100</text><path d="M313.5 513.5v-3.5M313.5 317.5v3.5" stroke="#262626" stroke-width="1" fill="none"/><text transform="translate(313.7,531) scale(1,1.07)" text-anchor="middle" font-size="13.33">150</text><path d="M376.5 513.5v-3.5M376.5 317.5v3.5" stroke="#262626" stroke-width="1" fill="none"/><text transform="translate(376.7,531) scale(1,1.07)" text-anchor="middle" font-size="13.33">200</text><path d="M439.5 513.5v-3.5M439.5 317.5v3.5" stroke="#262626" stroke-width="1" fill="none"/><text transform="translate(439.7,531) scale(1,1.07)" text-anchor="middle" font-size="13.33">250</text><path d="M125.5 513.5h3.5M445.5 513.5h-3.5" stroke="#262626" stroke-width="1" fill="none"/><text transform="translate(119.5,518.4) scale(1,1.07)" text-anchor="end" font-size="13.33">0</text><path d="M125.5 448.5h3.5M445.5 448.5h-3.5" stroke="#262626" stroke-width="1" fill="none"/><text transform="translate(119.5,453.4) scale(1,1.07)" text-anchor="end" font-size="13.33">500</text><path d="M125.5 382.5h3.5M445.5 382.5h-3.5" stroke="#262626" stroke-width="1" fill="none"/><text transform="translate(119.5,387.4) scale(1,1.07)" text-anchor="end" font-size="13.33">1000</text><path d="M125.5 317.5h3.5M445.5 317.5h-3.5" stroke="#262626" stroke-width="1" fill="none"/><text transform="translate(119.5,322.4) scale(1,1.07)" text-anchor="end" font-size="13.33">1500</text></g></g>
</svg>
</body>
</html>
